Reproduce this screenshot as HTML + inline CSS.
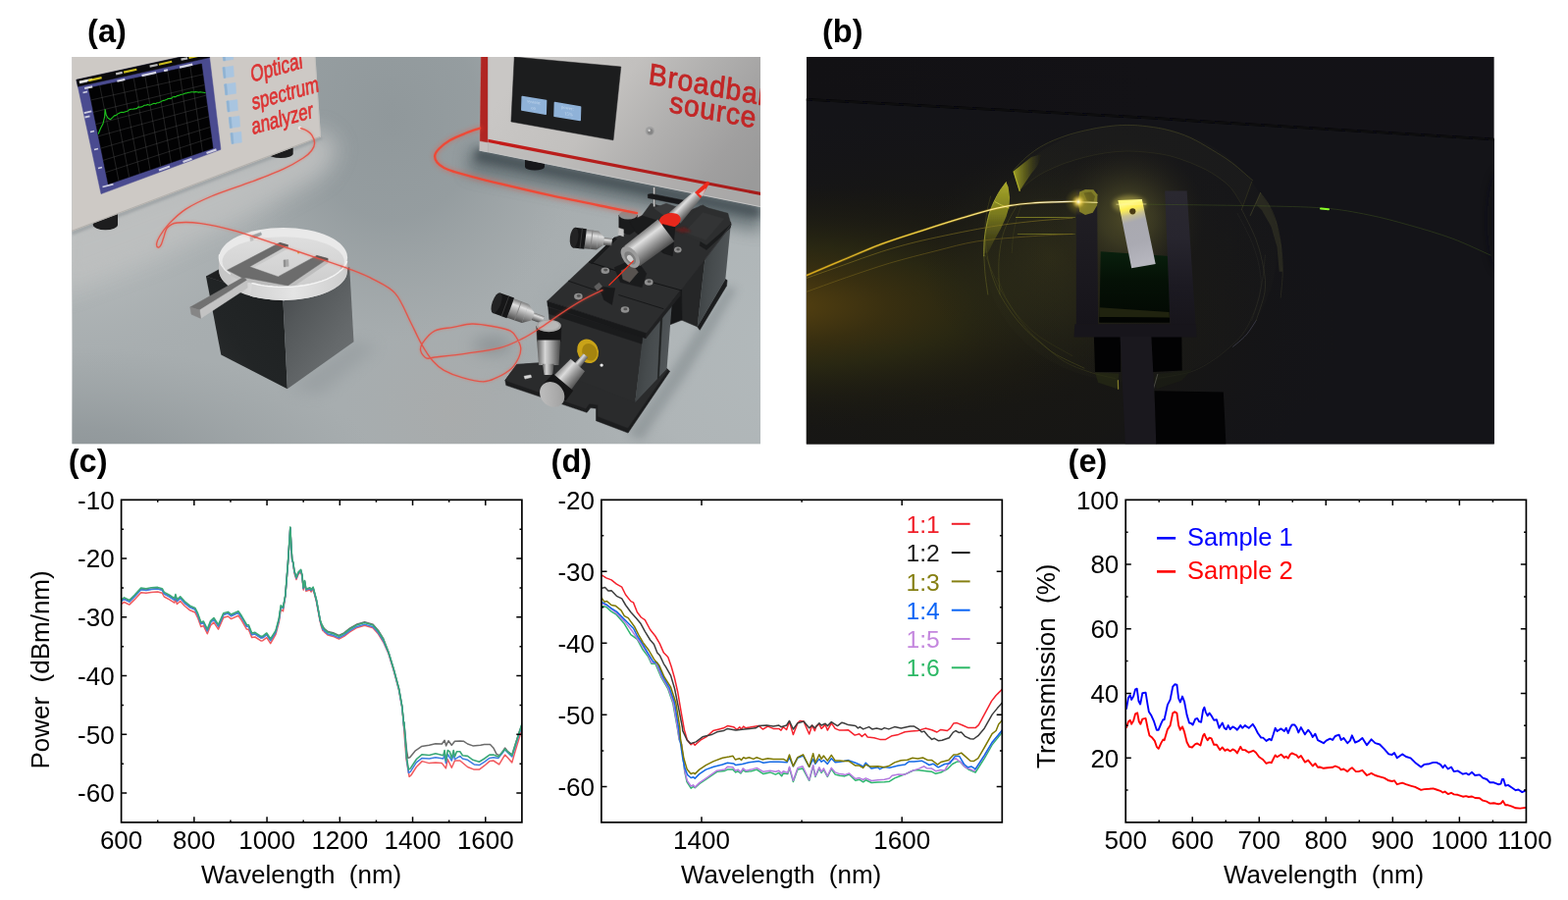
<!DOCTYPE html>
<html lang="en"><head><meta charset="utf-8"><title>Figure</title>
<style>
html,body{margin:0;padding:0;background:#fff;}
body{width:1598px;height:917px;overflow:hidden;}
svg{display:block;font-family:"Liberation Sans",sans-serif;}
</style></head><body>
<svg width="1598" height="917" viewBox="0 0 1598 917">
<rect width="1598" height="917" fill="#fff"/>
<defs>
<clipPath id="clipA"><rect x="73.3" y="58.0" width="701.7" height="394.4"/></clipPath>
<radialGradient id="aF1" cx="800" cy="350" r="290" gradientUnits="userSpaceOnUse">
 <stop offset="0" stop-color="#b2b9bb" stop-opacity="1"/><stop offset="0.5" stop-color="#b0b6b8" stop-opacity="0.9"/><stop offset="1" stop-color="#a8aeb0" stop-opacity="0"/>
</radialGradient>
<radialGradient id="aF2" cx="70" cy="236" r="150" gradientUnits="userSpaceOnUse" gradientTransform="translate(70 236) scale(1.5 1) translate(-70 -236)">
 <stop offset="0" stop-color="#bcc0c0" stop-opacity="1"/><stop offset="0.4" stop-color="#b3b8b9" stop-opacity="0.8"/><stop offset="1" stop-color="#a8aeb0" stop-opacity="0"/>
</radialGradient>
<radialGradient id="aF3" cx="60" cy="478" r="125" gradientUnits="userSpaceOnUse" gradientTransform="translate(60 478) scale(2.6 1) translate(-60 -478)">
 <stop offset="0" stop-color="#8c9396" stop-opacity="1"/><stop offset="0.35" stop-color="#91989b" stop-opacity="0.85"/><stop offset="1" stop-color="#979ea0" stop-opacity="0"/>
</radialGradient>
<radialGradient id="aF4" cx="400" cy="120" r="230" gradientUnits="userSpaceOnUse" gradientTransform="translate(400 120) scale(0.85 1) translate(-400 -120)">
 <stop offset="0" stop-color="#90989b" stop-opacity="1"/><stop offset="0.45" stop-color="#939b9e" stop-opacity="0.9"/><stop offset="1" stop-color="#989fa1" stop-opacity="0"/>
</radialGradient>
<radialGradient id="aF5" cx="460" cy="420" r="110" gradientUnits="userSpaceOnUse">
 <stop offset="0" stop-color="#a9abab" stop-opacity="0.8"/><stop offset="1" stop-color="#a6aaab" stop-opacity="0"/>
</radialGradient>
<linearGradient id="aSrcF" gradientUnits="userSpaceOnUse" x1="540" y1="60" x2="740" y2="215">
 <stop offset="0" stop-color="#c9c7c5"/><stop offset="0.35" stop-color="#c2c0be"/><stop offset="0.6" stop-color="#b0afae"/><stop offset="0.85" stop-color="#a09f9f"/><stop offset="1" stop-color="#9a9a9a"/>
</linearGradient>
<linearGradient id="aSrcSh" gradientUnits="userSpaceOnUse" x1="600" y1="90" x2="760" y2="215">
 <stop offset="0" stop-color="#9a9a9a" stop-opacity="0"/><stop offset="0.45" stop-color="#9a9a9a" stop-opacity="0.12"/><stop offset="0.8" stop-color="#9a9a9a" stop-opacity="0.7"/><stop offset="1" stop-color="#989898" stop-opacity="0.95"/>
</linearGradient>
<linearGradient id="aStripe" gradientUnits="userSpaceOnUse" x1="489" y1="0" x2="775" y2="0">
 <stop offset="0" stop-color="#c81a18"/><stop offset="0.3" stop-color="#b81e1c"/><stop offset="1" stop-color="#a61c1a"/>
</linearGradient>
<filter id="b2" x="-100%" y="-100%" width="300%" height="300%"><feGaussianBlur stdDeviation="2"/></filter>
<filter id="b4" x="-100%" y="-100%" width="300%" height="300%"><feGaussianBlur stdDeviation="4"/></filter>
<filter id="b12" x="-100%" y="-100%" width="300%" height="300%"><feGaussianBlur stdDeviation="11"/></filter>
<filter id="b8" x="-100%" y="-100%" width="300%" height="300%"><feGaussianBlur stdDeviation="8"/></filter>
<filter id="b1" x="-100%" y="-100%" width="300%" height="300%"><feGaussianBlur stdDeviation="0.8"/></filter>
<filter id="b05" x="-100%" y="-100%" width="300%" height="300%"><feGaussianBlur stdDeviation="0.45"/></filter>
<linearGradient id="aPedL" x1="1" y1="0" x2="0" y2="1"><stop offset="0" stop-color="#1d2021"/><stop offset="0.6" stop-color="#222526"/><stop offset="1" stop-color="#2c2e2f"/></linearGradient>
<linearGradient id="aPedR" x1="0.1" y1="0" x2="0.9" y2="1">
 <stop offset="0" stop-color="#44474a"/><stop offset="0.3" stop-color="#54585a"/><stop offset="0.7" stop-color="#65696b"/><stop offset="1" stop-color="#6e7274"/>
</linearGradient>
<linearGradient id="aMetal" x1="0" y1="0" x2="0" y2="1">
 <stop offset="0" stop-color="#6d6d6d"/><stop offset="0.3" stop-color="#d8d8d8"/><stop offset="0.55" stop-color="#a8a8a8"/><stop offset="1" stop-color="#4a4a4a"/>
</linearGradient>
<linearGradient id="aMetalH" x1="0" y1="0" x2="1" y2="0">
 <stop offset="0" stop-color="#5a5a5a"/><stop offset="0.35" stop-color="#d6d6d6"/><stop offset="0.6" stop-color="#a5a5a5"/><stop offset="1" stop-color="#4a4a4a"/>
</linearGradient>
<linearGradient id="aDishW" x1="0" y1="0" x2="1" y2="0">
<stop offset="0" stop-color="#bdbdbd"/><stop offset="0.25" stop-color="#d8d8d8"/><stop offset="0.6" stop-color="#e2e2e2"/><stop offset="1" stop-color="#c4c4c4"/></linearGradient>
<linearGradient id="aDishF" x1="0" y1="0" x2="0" y2="1">
<stop offset="0" stop-color="#dedede"/><stop offset="0.5" stop-color="#d6d6d6"/><stop offset="1" stop-color="#cdcdcd"/></linearGradient></defs>
<g clip-path="url(#clipA)">
<rect x="73.3" y="58.0" width="701.7" height="394.4" fill="#a7adaf"/>
<rect x="73.3" y="58.0" width="701.7" height="394.4" fill="url(#aF4)"/>
<rect x="73.3" y="58.0" width="701.7" height="394.4" fill="url(#aF1)"/>
<rect x="73.3" y="58.0" width="701.7" height="394.4" fill="url(#aF5)"/>
<rect x="73.3" y="58.0" width="701.7" height="394.4" fill="url(#aF2)"/>
<rect x="73.3" y="58.0" width="701.7" height="394.4" fill="url(#aF3)"/>
<polygon points="60.0,232.0 326.5,132.0 345.0,150.0 330.0,178.0 250.0,222.0 160.0,262.0 60.0,300.0" fill="#bdbfbf" stroke="#bdbfbf" stroke-width="0.5" stroke-linejoin="round" filter="url(#b12)" opacity="0.95"/>
<polygon points="73.3,235.0 326.5,139.0 329.0,141.5 73.3,239.5" fill="#8a9194" stroke="#8a9194" stroke-width="0.5" stroke-linejoin="round" filter="url(#b1)" opacity="0.5"/>
<path d="M94.8 214 V229 A12.6 5.2 0 0 0 120 229 V214 Z" fill="#1d1d1e"/>
<path d="M273.5 146 V156.5 A12.6 4.6 0 0 0 298.7 156.5 V146 Z" fill="#1d1d1e"/>
<polygon points="73.3,58.0 321.0,58.0 326.5,139.4 73.3,235.5" fill="#cdc9c5" stroke="#cdc9c5" stroke-width="0.5" stroke-linejoin="round" />
<polyline points="73.3,235.2 326.5,139.2" fill="none" stroke="#b4b1ad" stroke-width="1.2" stroke-linecap="round" stroke-linejoin="round" />
<polyline points="321.0,58.0 326.5,139.4" fill="none" stroke="#c4c2bf" stroke-width="1.0" stroke-linecap="round" stroke-linejoin="round" />
<polygon points="77.9,81.4 212.8,52.0 225.0,152.3 103.0,197.6" fill="#4a4b90" stroke="#4a4b90" stroke-width="0.5" stroke-linejoin="round" />
<polygon points="77.9,81.2 212.8,51.8 213.6,58.6 79.4,88.2" fill="#0a0a0c" stroke="#0a0a0c" stroke-width="0.5" stroke-linejoin="round" />
<polygon points="90.2,89.8 205.4,65.0 217.1,151.0 110.3,187.8" fill="#020203" stroke="#020203" stroke-width="0.5" stroke-linejoin="round" />
<path d="M101.7 87.3L121.0 184.1M113.2 84.8L131.7 180.4M124.8 82.4L142.3 176.8M136.3 79.9L153.0 173.1M147.8 77.4L163.7 169.4M159.3 74.9L174.4 165.7M170.8 72.4L185.1 162.0M182.4 70.0L195.7 158.4M193.9 67.5L206.4 154.7M92.7 102.0L206.9 75.8M95.2 114.3L208.3 86.5M97.7 126.6L209.8 97.2M100.2 138.8L211.2 108.0M102.8 151.1L212.7 118.8M105.3 163.3L214.2 129.5M107.8 175.6L215.6 140.2" stroke="#6a6a6a" stroke-width="0.55" fill="none" opacity="0.55"/>
<polyline points="100.3,136.2 102.5,130.8 105.0,126.0 106.6,118.9 107.2,111.5 108.2,117.0 110.0,120.2 112.4,121.8 115.0,119.4 116.5,117.9 118.0,117.6 119.5,116.4 121.0,115.5 122.5,114.7 124.0,114.2 125.7,114.6 127.3,113.9 128.9,113.4 130.4,112.9 132.0,111.6 133.7,111.3 135.3,111.2 137.0,110.9 138.3,110.7 139.7,110.4 141.0,108.9 142.5,109.2 144.1,108.9 145.6,108.2 147.2,107.3 148.8,107.3 150.4,106.4 152.0,107.1 153.7,106.7 155.3,106.0 157.0,105.3 158.5,105.7 160.1,104.8 161.6,104.7 163.2,104.1 164.8,103.1 166.4,102.4 168.0,102.1 169.7,101.4 171.3,100.5 173.0,100.2 174.4,100.4 175.9,98.9 177.4,98.4 178.8,98.7 180.4,97.6 181.9,97.4 183.4,96.8 185.0,96.2 186.6,96.0 188.2,95.3 189.8,94.9 191.4,94.4 193.2,94.3 195.0,93.8 196.5,93.8 197.9,93.9 199.4,93.6 200.9,93.8 202.5,94.1 204.0,93.8 205.7,94.0 207.4,94.2 209.1,94.5" fill="none" stroke="#1cc41c" stroke-width="1.1" stroke-linecap="round" stroke-linejoin="round" filter="url(#b05)"/>
<path d="M80.9 83.6L94.2 80.7" stroke="#e8e8e8" stroke-width="2.2" opacity="0.9" filter="url(#b05)"/>
<path d="M81.0 84.1L89.0 82.4" stroke="#e8e8e8" stroke-width="2.2" opacity="0.9" filter="url(#b05)"/>
<path d="M90.3 82.1L103.6 79.1" stroke="#e0d020" stroke-width="2.2" opacity="0.9" filter="url(#b05)"/>
<path d="M118.1 75.3L124.7 73.9" stroke="#cfcfcf" stroke-width="2.2" opacity="0.9" filter="url(#b05)"/>
<path d="M126.1 73.6L139.3 70.7" stroke="#e0d020" stroke-width="2.2" opacity="0.9" filter="url(#b05)"/>
<path d="M152.6 67.7L160.6 66.0" stroke="#cfcfcf" stroke-width="2.2" opacity="0.9" filter="url(#b05)"/>
<path d="M161.9 65.7L175.2 62.8" stroke="#e0d020" stroke-width="2.2" opacity="0.9" filter="url(#b05)"/>
<path d="M184.5 60.7L191.1 59.3" stroke="#cfcfcf" stroke-width="2.2" opacity="0.9" filter="url(#b05)"/>
<path d="M192.5 59.0L201.8 56.9" stroke="#e0d020" stroke-width="2.2" opacity="0.9" filter="url(#b05)"/>
<path d="M86.2 90.0L94.2 88.3" stroke="#e4e4ee" stroke-width="2.2" opacity="0.9" filter="url(#b05)"/>
<path d="M119.4 82.7L127.3 80.9" stroke="#e4e4ee" stroke-width="2.2" opacity="0.9" filter="url(#b05)"/>
<path d="M144.5 77.1L159.1 73.9" stroke="#e4e4ee" stroke-width="2.2" opacity="0.9" filter="url(#b05)"/>
<path d="M167.1 72.1L171.0 71.2" stroke="#e4e4ee" stroke-width="2.2" opacity="0.9" filter="url(#b05)"/>
<path d="M183.0 68.6L196.2 65.6" stroke="#e4e4ee" stroke-width="2.2" opacity="0.9" filter="url(#b05)"/>
<path d="M84.5 94.5l4.5 -1.1" stroke="#e4e4ee" stroke-width="1.8" opacity="0.85" filter="url(#b05)"/>
<path d="M85.8 115.2l7.5 -1.9" stroke="#e4e4ee" stroke-width="1.8" opacity="0.85" filter="url(#b05)"/>
<path d="M86.5 119.5l5.0 -1.2" stroke="#e4e4ee" stroke-width="1.8" opacity="0.85" filter="url(#b05)"/>
<path d="M92.0 134.5l4.0 -1.0" stroke="#e4e4ee" stroke-width="1.8" opacity="0.85" filter="url(#b05)"/>
<path d="M96.0 152.5l4.0 -1.0" stroke="#e4e4ee" stroke-width="1.8" opacity="0.85" filter="url(#b05)"/>
<path d="M100.0 171.5l4.0 -1.0" stroke="#e4e4ee" stroke-width="1.8" opacity="0.85" filter="url(#b05)"/>
<path d="M104.5 190.5l11.0 -2.8" stroke="#e4e4ee" stroke-width="1.8" opacity="0.85" filter="url(#b05)"/>
<path d="M162.0 173.5l11.0 -4.0" stroke="#e4e4ee" stroke-width="2.2" opacity="0.85" filter="url(#b05)"/>
<path d="M186.5 165.0l9.0 -3.2" stroke="#e4e4ee" stroke-width="2.2" opacity="0.85" filter="url(#b05)"/>
<path d="M210.5 156.0l10.0 -3.6" stroke="#e4e4ee" stroke-width="2.2" opacity="0.85" filter="url(#b05)"/>
<polygon points="226.6,55.0 237.2,53.5 237.8,60.5 227.8,62.0" fill="#a9c5e0" stroke="#a9c5e0" stroke-width="0.5" stroke-linejoin="round" />
<polygon points="226.6,55.0 228.8,54.7 229.8,61.7 227.8,62.0" fill="#8fb2d2" stroke="#8fb2d2" stroke-width="0.5" stroke-linejoin="round" />
<polygon points="226.9,68.7 237.8,67.2 238.4,78.1 228.1,79.6" fill="#a9c5e0" stroke="#a9c5e0" stroke-width="0.5" stroke-linejoin="round" />
<polygon points="226.9,68.7 229.1,68.4 230.1,79.3 228.1,79.6" fill="#8fb2d2" stroke="#8fb2d2" stroke-width="0.5" stroke-linejoin="round" />
<polygon points="228.6,85.9 240.0,84.3 240.6,95.2 229.8,96.8" fill="#a9c5e0" stroke="#a9c5e0" stroke-width="0.5" stroke-linejoin="round" />
<polygon points="228.6,85.9 230.8,85.6 231.8,96.5 229.8,96.8" fill="#8fb2d2" stroke="#8fb2d2" stroke-width="0.5" stroke-linejoin="round" />
<polygon points="230.9,103.1 241.8,101.6 242.4,112.5 232.1,114.0" fill="#a9c5e0" stroke="#a9c5e0" stroke-width="0.5" stroke-linejoin="round" />
<polygon points="230.9,103.1 233.1,102.8 234.1,113.7 232.1,114.0" fill="#8fb2d2" stroke="#8fb2d2" stroke-width="0.5" stroke-linejoin="round" />
<polygon points="233.2,119.7 244.0,118.2 244.6,129.1 234.4,130.6" fill="#a9c5e0" stroke="#a9c5e0" stroke-width="0.5" stroke-linejoin="round" />
<polygon points="233.2,119.7 235.4,119.4 236.4,130.3 234.4,130.6" fill="#8fb2d2" stroke="#8fb2d2" stroke-width="0.5" stroke-linejoin="round" />
<polygon points="234.9,135.7 245.8,134.2 246.4,145.1 236.1,146.6" fill="#a9c5e0" stroke="#a9c5e0" stroke-width="0.5" stroke-linejoin="round" />
<polygon points="234.9,135.7 237.1,135.4 238.1,146.3 236.1,146.6" fill="#8fb2d2" stroke="#8fb2d2" stroke-width="0.5" stroke-linejoin="round" />
<g fill="#dc3434" stroke="#dc3434" stroke-width="0.7" font-family="'Liberation Sans',sans-serif" text-anchor="middle" filter="url(#b05)">
<text transform="matrix(0.72 -0.20 0.10 1.0 282.6 76.5)" font-size="23.5" x="0" y="0">Optical</text>
<text transform="matrix(0.72 -0.20 0.10 1.0 291.5 102.6)" font-size="23.0" x="0" y="0">spectrum</text>
<text transform="matrix(0.72 -0.20 0.10 1.0 288.5 128.4)" font-size="23.0" x="0" y="0">analyzer</text>
</g>
<circle cx="305.6" cy="130.4" r="1.8" fill="#efefef"/>
<polygon points="480.0,150.0 775.0,208.0 775.0,236.0 476.0,176.0" fill="#5a666a" stroke="#5a666a" stroke-width="0.5" stroke-linejoin="round" filter="url(#b8)" opacity="0.75"/>
<polygon points="486.0,152.0 775.0,210.0 775.0,222.0 484.0,163.0" fill="#434e52" stroke="#434e52" stroke-width="0.5" stroke-linejoin="round" filter="url(#b4)" opacity="0.9"/>
<path d="M535 160 V170 A10 3.6 0 0 0 555 170 V160 Z" fill="#17171a"/>
<polygon points="490.3,58.0 497.7,58.0 497.5,155.0 488.8,153.2" fill="#c4c1c0" stroke="#c4c1c0" stroke-width="0.5" stroke-linejoin="round" />
<polygon points="490.3,58.0 497.7,58.0 497.5,145.0 489.2,143.6" fill="#b02522" stroke="#b02522" stroke-width="0.5" stroke-linejoin="round" />
<polygon points="497.4,58.0 775.0,58.0 775.0,210.8 497.4,154.8" fill="url(#aSrcF)"  />
<polygon points="497.4,145.0 775.0,198.8 775.0,210.8 497.4,154.8" fill="#b8b6b5" stroke="#b8b6b5" stroke-width="0.5" stroke-linejoin="round" opacity="0.5"/>
<polyline points="488.8,153.2 497.4,154.8 775.0,210.6" fill="none" stroke="#c6c6c6" stroke-width="0.9" stroke-linecap="round" stroke-linejoin="round" />
<polyline points="497.5,58.0 497.4,154.6" fill="none" stroke="#b9b5b5" stroke-width="0.8" stroke-linecap="round" stroke-linejoin="round" />
<polygon points="497.4,141.8 775.0,195.8 775.0,198.9 497.4,145.1" fill="url(#aStripe)"  />
<polygon points="524.2,58.0 632.8,68.0 625.0,142.8 520.9,124.0" fill="#1c1d1e" stroke="#1c1d1e" stroke-width="0.5" stroke-linejoin="round" />
<g filter="url(#b05)">
<polygon points="532.2,98.6 556.6,102.6 556.2,116.2 531.8,112.0" fill="#8fb2d8"  stroke="#8fb2d8" stroke-width="1.5" stroke-linejoin="round"/>
<polygon points="565.4,104.6 591.6,108.9 591.2,122.6 565.0,118.2" fill="#8fb2d8"  stroke="#8fb2d8" stroke-width="1.5" stroke-linejoin="round"/>
</g>
<g fill="#c9dcf0" font-size="4.6" font-family="'Liberation Serif',serif" text-anchor="middle" opacity="0.9">
<text transform="matrix(1 0.165 0 1 544.3 105.4)">system:</text><text transform="matrix(1 0.165 0 1 543.5 111.6)">on</text>
<text transform="matrix(1 0.165 0 1 578.3 111.4)">power:</text><text transform="matrix(1 0.165 0 1 579.5 117.8)">15%</text>
</g>
<circle cx="662.3" cy="133.6" r="4.6" fill="#a0a0a0"/><circle cx="662.6" cy="133.9" r="3.0" fill="#858585"/><circle cx="661.6" cy="132.8" r="1.2" fill="#d6d6d6"/>
<g fill="#c22626" stroke="#c22626" stroke-width="0.8" font-family="'Liberation Sans',sans-serif" filter="url(#b05)">
<text transform="matrix(0.93 0.175 -0.11 1.0 660.2 85.2)" font-size="30" letter-spacing="0.9">Broadband</text>
<text transform="matrix(0.93 0.175 -0.11 1.0 681.5 114.0)" font-size="30" letter-spacing="0.9">source</text>
</g>
<polygon points="292.0,396.0 360.0,348.0 385.0,352.0 325.0,402.0" fill="#8a9194" stroke="#8a9194" stroke-width="0.5" stroke-linejoin="round" filter="url(#b8)" opacity="0.45"/>
<polygon points="210.0,281.8 225.3,361.4 292.9,396.3 288.5,306.9" fill="url(#aPedL)"  />
<polygon points="288.5,306.9 292.9,396.3 360.5,348.3 356.2,272.0" fill="url(#aPedR)"  />
<polygon points="210.0,281.8 228.0,272.0 250.0,300.0 288.5,306.9" fill="#1e1f20" stroke="#1e1f20" stroke-width="0.5" stroke-linejoin="round" />
<path d="M223.3 262.2 A65.4 30.2 0 0 0 354.1 262.2 V275.7 A65.4 30.2 0 0 1 223.3 275.7 Z" fill="url(#aDishW)"/>
<ellipse cx="288.7" cy="262.2" rx="65.4" ry="30.2" fill="#e9e9e9"/>
<ellipse cx="288.7" cy="266.4" rx="62.2" ry="25.2" fill="url(#aDishF)"/>
<defs><linearGradient id="aDishW2" x1="0" y1="0" x2="1" y2="0"><stop offset="0" stop-color="#d2d2d2"/><stop offset="0.45" stop-color="#e4e4e4"/><stop offset="1" stop-color="#cdcdcd"/></linearGradient><linearGradient id="aMetal2" gradientUnits="objectBoundingBox" x1="0" y1="0" x2="0" y2="1"><stop offset="0" stop-color="#7a7a7a"/><stop offset="0.28" stop-color="#e0e0e0"/><stop offset="0.55" stop-color="#a6a6a6"/><stop offset="1" stop-color="#4c4c4c"/></linearGradient><linearGradient id="aFaceR" x1="0" y1="0" x2="1" y2="0.4"><stop offset="0" stop-color="#34383a"/><stop offset="0.5" stop-color="#464b4d"/><stop offset="1" stop-color="#52575a"/></linearGradient><linearGradient id="aCap" x1="0" y1="0" x2="1" y2="1"><stop offset="0" stop-color="#c4c4c4"/><stop offset="1" stop-color="#9a9a9a"/></linearGradient><linearGradient id="aMetal3" gradientUnits="objectBoundingBox" x1="0" y1="0" x2="0" y2="1"><stop offset="0" stop-color="#8a8a8a"/><stop offset="0.3" stop-color="#dcdcdc"/><stop offset="0.6" stop-color="#9c9c9c"/><stop offset="1" stop-color="#505050"/></linearGradient></defs>
<polygon points="293.4,291.0 334.1,263.5 334.1,268.0 293.9,295.3 252.0,287.2 252.0,283.3" fill="#bdbdbd" stroke="#bdbdbd" stroke-width="0.5" stroke-linejoin="round" />
<polygon points="254.4,271.8 293.4,249.7 293.4,253.0 256.8,273.4" fill="#c9c9c9" stroke="#c9c9c9" stroke-width="0.5" stroke-linejoin="round" />
<polygon points="231.6,275.2 247.2,283.3 247.2,287.2 231.8,279.0" fill="#c4c4c4" stroke="#c4c4c4" stroke-width="0.5" stroke-linejoin="round" />
<polygon points="231.6,275.2 285.0,247.3 293.4,249.7 254.4,271.8 283.4,281.9 322.7,260.4 334.1,263.5 293.4,291.0 252.0,283.3 247.2,283.3" fill="#6c6c6c" stroke="#6c6c6c" stroke-width="0.5" stroke-linejoin="round" />
<polygon points="285.0,247.3 293.4,249.7 293.4,251.4 285.0,249.0" fill="#5a5a5a" stroke="#5a5a5a" stroke-width="0.5" stroke-linejoin="round" />
<polygon points="322.7,260.4 334.1,263.5 334.1,265.6 322.7,262.2" fill="#555555" stroke="#555555" stroke-width="0.5" stroke-linejoin="round" />
<polygon points="256.8,239.9 265.9,236.8 266.6,239.2 259.2,243.0" fill="#9ba2a4" stroke="#9ba2a4" stroke-width="0.5" stroke-linejoin="round" />
<polygon points="254.8,241.6 258.0,240.6 258.2,244.9 255.3,245.7" fill="#c2c2c2" stroke="#c2c2c2" stroke-width="0.5" stroke-linejoin="round" />
<polygon points="347.2,270.4 349.1,270.9 349.1,275.9 347.2,275.2" fill="#bdbdbd" stroke="#bdbdbd" stroke-width="0.5" stroke-linejoin="round" />
<polygon points="289.2,265.0 293.9,264.6 294.2,271.3 289.4,271.8" fill="#a9a9a9" stroke="#a9a9a9" stroke-width="0.5" stroke-linejoin="round" />
<polygon points="289.2,265.0 290.6,264.9 290.8,271.7 289.4,271.8" fill="#8a8a8a" stroke="#8a8a8a" stroke-width="0.5" stroke-linejoin="round" />
<circle cx="304.1" cy="257.4" r="1.1" fill="#d8a040"/>
<polygon points="353.5,266.4 352.9,268.0 352.2,269.5 351.2,271.0 350.2,272.5 348.9,274.0 347.5,275.4 345.9,276.8 344.2,278.2 342.3,279.5 340.2,280.8 338.1,282.0 335.7,283.2 333.3,284.3 330.7,285.3 328.1,286.3 325.3,287.2 322.4,288.1 319.4,288.9 316.3,289.6 313.2,290.2 310.0,290.8 306.7,291.2 303.4,291.6 300.1,291.9 296.7,292.2 293.3,292.3 289.8,292.4 286.4,292.4 283.0,292.3 279.6,292.1 276.2,291.8 272.9,291.5 269.6,291.1 266.3,290.6 263.1,290.0 260.0,289.3 257.0,288.6 255.0,301.6 258.0,302.4 261.1,303.1 264.2,303.7 267.4,304.3 270.7,304.7 274.0,305.1 277.3,305.4 280.7,305.7 284.1,305.8 287.6,305.9 291.0,305.9 294.4,305.8 297.8,305.6 301.2,305.3 304.5,305.0 307.8,304.6 311.1,304.1 314.3,303.5 317.4,302.8 320.4,302.1 323.4,301.3 326.2,300.4 329.0,299.5 331.6,298.5 334.1,297.4 336.5,296.3 338.8,295.1 340.9,293.9 342.9,292.6 344.8,291.3 346.4,289.9 348.0,288.5 349.3,287.0 350.5,285.5 351.6,284.0 352.4,282.5 353.1,280.9" fill="url(#aDishW2)"  />
<polyline points="353.5,266.4 352.9,268.0 352.2,269.5 351.2,271.0 350.2,272.5 348.9,274.0 347.5,275.4 345.9,276.8 344.2,278.2 342.3,279.5 340.2,280.8 338.1,282.0 335.7,283.2 333.3,284.3 330.7,285.3 328.1,286.3 325.3,287.2 322.4,288.1 319.4,288.9 316.3,289.6 313.2,290.2 310.0,290.8 306.7,291.2 303.4,291.6 300.1,291.9 296.7,292.2 293.3,292.3 289.8,292.4 286.4,292.4 283.0,292.3 279.6,292.1 276.2,291.8 272.9,291.5 269.6,291.1 266.3,290.6 263.1,290.0 260.0,289.3 257.0,288.6" fill="none" stroke="#f4f4f4" stroke-width="1.4" stroke-linecap="round" stroke-linejoin="round" />
<polygon points="234.5,279.1 232.6,277.8 231.0,276.4 229.4,275.0 228.1,273.5 226.9,272.0 225.8,270.5 225.0,269.0 224.3,267.4 223.8,265.9 223.5,264.3 223.3,262.7 223.3,261.1 223.5,259.6 223.5,272.1 223.3,273.6 223.3,275.2 223.5,276.8 223.8,278.4 224.3,279.9 225.0,281.5 225.8,283.0 226.9,284.5 228.1,286.0 229.4,287.5 231.0,288.9 232.6,290.3 234.5,291.6" fill="#c6c6c6" stroke="#c6c6c6" stroke-width="0.5" stroke-linejoin="round" />
<polyline points="234.5,279.1 232.6,277.8 231.0,276.4 229.4,275.0 228.1,273.5 226.9,272.0 225.8,270.5 225.0,269.0 224.3,267.4 223.8,265.9 223.5,264.3 223.3,262.7 223.3,261.1 223.5,259.6" fill="none" stroke="#ededed" stroke-width="1.2" stroke-linecap="round" stroke-linejoin="round" />
<polygon points="193.8,313.0 247.8,282.6 252.0,285.4 203.4,316.0" fill="#717171" stroke="#717171" stroke-width="0.5" stroke-linejoin="round" />
<polygon points="203.4,316.0 252.0,285.4 252.2,293.2 204.6,324.4" fill="#c3c3c3" stroke="#c3c3c3" stroke-width="0.5" stroke-linejoin="round" />
<polygon points="193.8,313.0 203.4,316.0 204.6,324.4 195.0,320.2" fill="#868686" stroke="#868686" stroke-width="0.5" stroke-linejoin="round" />
<polygon points="640.1,442.0 683.6,378.3 711.6,334.8 741.1,291.2 750.5,294.4 722.5,344.1 697.6,384.5 654.1,448.2" fill="#7d8588" stroke="#7d8588" stroke-width="0.5" stroke-linejoin="round" filter="url(#b4)" opacity="0.5"/>
<polygon points="498.7,393.8 554.6,356.5 557.7,303.7 604.4,257.0 573.3,300.6 536.0,356.5" fill="#979ea0" stroke="#979ea0" stroke-width="0.5" stroke-linejoin="round" filter="url(#b8)" opacity="0.4"/>
<ellipse cx="502" cy="352" rx="20" ry="8" fill="#767d80" filter="url(#b8)" opacity="0.6"/>
<polygon points="514.8,387.6 526.6,371.4 560.8,369.0 646.3,409.4 679.0,375.2 682.7,378.3 640.1,441.1 607.5,428.7 607.5,416.2 601.9,415.6 598.1,420.3 515.8,392.6" fill="#1c1d1e" stroke="#1c1d1e" stroke-width="0.5" stroke-linejoin="round" />
<polygon points="710.7,332.9 739.3,284.4 741.1,285.6 740.5,291.2 713.2,336.3" fill="#1c1d1e" stroke="#1c1d1e" stroke-width="0.5" stroke-linejoin="round" />
<polygon points="514.8,387.6 526.6,371.4 560.8,369.0 646.3,409.4 679.0,375.2 680.8,376.4 639.8,436.1 609.3,424.3 609.3,412.5 600.6,411.2 596.9,416.2" fill="#2a2b2c" stroke="#2a2b2c" stroke-width="0.5" stroke-linejoin="round" />
<polygon points="693.9,294.4 718.8,260.8 710.7,332.9 694.5,326.1" fill="#252627" stroke="#252627" stroke-width="0.5" stroke-linejoin="round" />
<polygon points="718.8,260.8 744.9,227.2 739.3,284.4 710.7,332.9" fill="url(#aFaceR)"  />
<polygon points="682.1,303.7 694.5,294.4 695.1,326.1 680.5,331.7" fill="#161718" stroke="#161718" stroke-width="0.5" stroke-linejoin="round" />
<polygon points="558.3,309.3 656.0,340.4 647.3,410.0 564.6,377.7" fill="#2b2c2d" stroke="#2b2c2d" stroke-width="0.5" stroke-linejoin="round" />
<polygon points="655.3,340.4 685.2,303.7 679.6,375.8 647.3,410.0" fill="url(#aFaceR)"  />
<polygon points="673.4,321.4 675.2,318.6 671.5,384.5 670.3,385.7" fill="#1e2021" stroke="#1e2021" stroke-width="0.5" stroke-linejoin="round" />
<polygon points="559.3,313.6 654.7,343.5 654.1,350.3 559.9,319.8" fill="#1a1b1c" stroke="#1a1b1c" stroke-width="0.5" stroke-linejoin="round" />
<polygon points="557.7,306.8 626.1,242.1 641.7,236.8 663.4,207.3 697.6,216.6 716.3,208.9 744.9,226.6 744.9,229.7 718.8,263.9 693.0,296.8 658.8,340.4" fill="#2c2d2e" stroke="#2c2d2e" stroke-width="0.5" stroke-linejoin="round" />
<polygon points="557.7,306.8 658.8,339.7 658.1,344.7 558.3,312.1" fill="#18191a" stroke="#18191a" stroke-width="0.5" stroke-linejoin="round" />
<polygon points="658.8,339.7 693.3,296.2 693.3,301.2 658.1,344.7" fill="#202122" stroke="#202122" stroke-width="0.5" stroke-linejoin="round" />
<polyline points="579.5,286.3 619.3,299.9" fill="none" stroke="#141516" stroke-width="0.9" stroke-linecap="round" stroke-linejoin="round" />
<polyline points="630.8,300.6 675.9,314.6" fill="none" stroke="#141516" stroke-width="0.9" stroke-linecap="round" stroke-linejoin="round" />
<polyline points="600.6,267.0 629.2,276.3" fill="none" stroke="#131415" stroke-width="1.2" stroke-linecap="round" stroke-linejoin="round" />
<polyline points="657.2,285.6 694.5,295.9" fill="none" stroke="#131415" stroke-width="1.0" stroke-linecap="round" stroke-linejoin="round" />
<polygon points="600.6,267.0 626.1,242.1 628.6,243.4 603.1,268.9" fill="#1a1b1c" stroke="#1a1b1c" stroke-width="0.5" stroke-linejoin="round" />
<polygon points="687.7,234.7 713.8,209.8 741.8,217.3 744.9,228.4 720.0,250.2 713.8,246.5" fill="#2d2e2f" stroke="#2d2e2f" stroke-width="0.5" stroke-linejoin="round" />
<polygon points="713.8,246.5 720.0,250.2 744.9,228.4 744.2,232.2 720.0,254.6 713.2,250.2" fill="#1b1c1d" stroke="#1b1c1d" stroke-width="0.5" stroke-linejoin="round" />
<polygon points="697.6,236.8 716.3,216.6 738.0,222.8 719.4,244.6" fill="#333435" stroke="#333435" stroke-width="0.5" stroke-linejoin="round" />
<polyline points="718.8,263.9 744.9,229.1" fill="none" stroke="#3c3e40" stroke-width="0.8" stroke-linecap="round" stroke-linejoin="round" />
<ellipse cx="589.4" cy="302.1" rx="4.3" ry="3.3" fill="#8f8f8f"/>
<ellipse cx="589.8" cy="301.5" rx="2.0" ry="1.4" fill="#555"/>
<ellipse cx="616.8" cy="275.7" rx="4.3" ry="3.3" fill="#8f8f8f"/>
<ellipse cx="617.2" cy="275.1" rx="2.0" ry="1.4" fill="#555"/>
<ellipse cx="637.0" cy="315.5" rx="4.3" ry="3.3" fill="#8f8f8f"/>
<ellipse cx="637.4" cy="314.9" rx="2.0" ry="1.4" fill="#555"/>
<ellipse cx="661.2" cy="287.5" rx="4.3" ry="3.3" fill="#8f8f8f"/>
<ellipse cx="661.6" cy="286.9" rx="2.0" ry="1.4" fill="#555"/>
<ellipse cx="690.8" cy="254.6" rx="3.8" ry="3.0" fill="#8f8f8f"/><ellipse cx="691.1" cy="254.1" rx="1.8" ry="1.3" fill="#555"/>
<polygon points="610.6,291.9 626.7,293.7 623.6,310.5 615.5,305.5" fill="#18191a" stroke="#18191a" stroke-width="0.5" stroke-linejoin="round" />
<polygon points="605.6,291.9 610.6,288.1 613.7,291.9 608.7,296.2" fill="#5f5f5f" stroke="#5f5f5f" stroke-width="0.5" stroke-linejoin="round" />
<polygon points="626.1,272.6 647.9,263.3 658.8,278.8 654.1,292.8 632.3,287.5" fill="#1a1b1c" stroke="#1a1b1c" stroke-width="0.5" stroke-linejoin="round" />
<polygon points="633.0,275.7 644.8,270.1 650.4,277.3 641.7,287.5 634.8,284.4" fill="#57524f" stroke="#57524f" stroke-width="0.5" stroke-linejoin="round" />
<polygon points="630.8,219.1 649.4,219.1 649.4,233.7 641.7,239.0 630.8,236.8" fill="#1a1b1c" stroke="#1a1b1c" stroke-width="0.5" stroke-linejoin="round" />
<polygon points="630.2,232.2 635.4,233.7 635.4,240.9 630.2,239.0" fill="#c4c4c4" stroke="#c4c4c4" stroke-width="0.5" stroke-linejoin="round" />
<ellipse cx="640.1" cy="219.1" rx="9.3" ry="4.4" fill="#8c8c8c"/>
<polygon points="641.7,226.0 654.1,219.7 687.7,230.6 685.2,260.2 675.9,257.7 647.9,236.8" fill="#1a1b1c" stroke="#1a1b1c" stroke-width="0.5" stroke-linejoin="round" />
<polygon points="665.3,191.1 668.1,191.1 668.1,210.4 665.6,210.4" fill="url(#aMetalH)"  />
<polygon points="660.3,198.0 664.0,197.4 697.6,204.2 697.6,207.9 694.5,208.5 660.3,201.7" fill="#18181a" stroke="#18181a" stroke-width="0.5" stroke-linejoin="round" />
<polygon points="666.5,212.0 679.0,207.3 697.6,213.5 685.2,226.0" fill="#3a3b3c" stroke="#3a3b3c" stroke-width="0.5" stroke-linejoin="round" />
<g transform="translate(687.7 222.2) rotate(-45.8)" ><polygon points="0,-8.0 33.0,-5.0 33.0,5.0 0,8.0" fill="url(#aMetal2)"/></g>
<polygon points="708.5,196.1 720.9,184.9 723.1,186.2 713.8,201.7" fill="#ee2a1c" stroke="#ee2a1c" stroke-width="0.5" stroke-linejoin="round" />
<polygon points="712.5,197.4 718.8,192.4 715.6,199.8" fill="#d0c0c0" stroke="#d0c0c0" stroke-width="0.5" stroke-linejoin="round" />
<ellipse cx="682.7" cy="224.7" rx="11.2" ry="7.6" fill="#e8281c" transform="rotate(-12 682.7 224.7)"/>
<polygon points="687.7,233.7 694.5,236.8 703.8,235.9 697.6,231.6" fill="#7a1612" stroke="#7a1612" stroke-width="0.5" stroke-linejoin="round" opacity="0.6" filter="url(#b1)"/>
<polygon points="675.2,228.4 687.7,231.6 685.2,260.8 675.9,257.7" fill="#1a1b1c" stroke="#1a1b1c" stroke-width="0.5" stroke-linejoin="round" />
<g transform="translate(644.1 260.8) rotate(-36.9)" ><polygon points="0,-13.0 43.5,-14.0 43.5,14.0 0,13.0" fill="url(#aMetal2)"/></g>
<ellipse cx="642.3" cy="262.0" rx="7.5" ry="12.6" fill="#9c9c9c" transform="rotate(-37 642.3 262.0)"/>
<ellipse cx="641.7" cy="262.6" rx="4.6" ry="7.6" fill="#7e7e7e" transform="rotate(-37 642.3 262.0)"/>
<ellipse cx="641.3" cy="263.2" rx="2.6" ry="4.0" fill="#cfcfcf" transform="rotate(-37 642.3 262.0)"/>
<g transform="translate(585.1 242.1) rotate(6.9)"><polygon points="30.3,-3.7 38.8,-3.7 38.8,3.7 30.3,3.7" fill="url(#aMetal2)"/><polygon points="24.1,-9.6 30.3,-4.2 30.3,4.2 24.1,9.6" fill="url(#aMetal2)"/><polygon points="11.6,-9.9 24.1,-9.6 24.1,9.6 11.6,9.9" fill="url(#aMetal2)"/><path d="M17.9 -9.7V9.7" stroke="#7a7a7a" stroke-width="0.7"/><polygon points="0,-10.4 11.6,-10.4 11.6,10.4 0,10.4" fill="#161617"/><ellipse cx="0" cy="0" rx="4.2" ry="10.4" fill="#232324"/><path d="M7.2 -10.4V10.4" stroke="#3a3a3a" stroke-width="0.9"/></g>
<g transform="translate(506.1 308.7) rotate(20.2)"><polygon points="39.3,-4.0 50.4,-4.0 50.4,4.0 39.3,4.0" fill="url(#aMetal2)"/><polygon points="31.2,-10.1 39.3,-4.4 39.3,4.4 31.2,10.1" fill="url(#aMetal2)"/><polygon points="15.1,-10.4 31.2,-10.1 31.2,10.1 15.1,10.4" fill="url(#aMetal2)"/><path d="M23.2 -10.2V10.2" stroke="#7a7a7a" stroke-width="0.7"/><polygon points="0,-11.0 15.1,-11.0 15.1,11.0 0,11.0" fill="#161617"/><ellipse cx="0" cy="0" rx="4.4" ry="11.0" fill="#232324"/><path d="M9.4 -11.0V11.0" stroke="#3a3a3a" stroke-width="0.9"/></g>
<polygon points="546.8,332.3 572.0,332.3 571.4,347.8 547.5,347.8" fill="#151516" stroke="#151516" stroke-width="0.5" stroke-linejoin="round" />
<polygon points="547.1,346.6 571.1,346.6 569.5,372.1 549.0,372.1" fill="url(#aMetalH)"  />
<polygon points="552.7,370.8 564.6,370.8 563.3,382.0 554.6,382.0" fill="url(#aMetalH)"  />
<ellipse cx="559.3" cy="332.0" rx="12.6" ry="6.2" fill="#a5a5a5"/>
<ellipse cx="559.3" cy="331.5" rx="10.6" ry="4.8" fill="#b8b8b8"/>
<polygon points="534.1,383.3 540.9,382.0 541.6,384.5 535.0,386.1" fill="#d6d6d6" stroke="#d6d6d6" stroke-width="0.5" stroke-linejoin="round" />
<ellipse cx="599.1" cy="357.8" rx="10.6" ry="12.6" fill="#c9a318" transform="rotate(-25 599.1 357.8)"/>
<ellipse cx="600.3" cy="359.4" rx="7.4" ry="9.0" fill="#a5840f" transform="rotate(-25 599.1 357.8)"/>
<circle cx="613.1" cy="372.1" r="1.7" fill="#e8e8e8"/>
<g transform="translate(587.3 373.6) rotate(-50.0)" ><polygon points="0,-3.6 15.0,-3.0 15.0,3.0 0,3.6" fill="url(#aMetal3)"/></g>
<g transform="translate(572.0 391.3) rotate(-48.9)" ><polygon points="0,-11.6 25.6,-9.6 25.6,9.6 0,11.6" fill="url(#aMetal3)"/></g>
<g transform="translate(565.8 399.1) rotate(-50.0)" ><polygon points="0,-14.2 12.6,-13.4 12.6,13.4 0,14.2" fill="#151516"/></g>
<ellipse cx="562.7" cy="401.9" rx="11.6" ry="13.8" fill="url(#aCap)" transform="rotate(-42 562.7 401.9)"/>
<path d="M306.4 130.7 C307.5 131.1 311.1 132.2 313.0 133.4 C314.9 134.6 316.5 135.5 317.8 137.6 C319.1 139.7 320.7 143.2 320.6 145.9 C320.6 148.6 319.4 151.0 317.5 153.5 C315.6 156.0 313.8 157.9 309.0 161.0 C304.2 164.1 297.8 168.1 289.0 172.1 C280.2 176.1 268.6 180.5 256.3 185.2 C244.0 189.8 226.6 195.3 215.4 200.0 C204.2 204.7 196.6 208.4 189.3 213.1 C182.0 217.8 176.2 223.8 171.8 228.4 C167.4 233.1 164.6 237.7 162.6 241.0 C160.6 244.3 159.8 246.5 159.6 248.4 C159.4 250.3 160.4 252.0 161.2 252.2 C162.0 252.3 163.3 250.9 164.2 249.3 C165.1 247.7 165.5 245.5 166.6 242.6 C167.7 239.7 168.3 234.6 170.6 232.0 C172.9 229.4 174.8 227.7 180.4 227.0 C186.1 226.3 195.0 226.3 204.5 227.6 C214.0 228.9 224.6 231.1 237.3 234.6 C250.0 238.1 266.4 243.8 280.9 248.6 C295.4 253.4 311.8 259.0 324.5 263.3 C337.2 267.6 347.9 271.1 357.2 274.6 C366.4 278.1 372.4 280.3 380.0 284.4 C387.6 288.5 396.5 291.9 402.9 299.1 C409.3 306.3 413.8 319.1 418.2 327.7 C422.6 336.3 425.8 343.9 429.6 350.6 C433.4 357.3 437.3 363.4 441.1 367.8 C444.9 372.2 447.4 374.5 452.5 377.3 C457.6 380.1 464.9 383.0 471.6 384.9 C478.3 386.8 486.9 388.8 492.6 388.8 C498.3 388.8 501.1 387.1 505.9 384.9 C510.7 382.7 517.4 378.9 521.2 375.4 C525.0 371.9 527.2 367.5 528.8 364.0 C530.4 360.5 531.0 357.6 530.7 354.4 C530.4 351.2 528.6 347.8 526.9 344.9 C525.1 342.0 524.3 339.3 520.2 337.2 C516.1 335.1 508.6 333.7 502.1 332.5 C495.6 331.3 487.8 329.9 481.1 330.0 C474.4 330.1 468.4 332.2 462.0 333.4 C455.6 334.6 448.2 334.5 443.0 337.2 C437.8 339.9 433.0 346.2 430.6 349.6 C428.2 353.0 428.1 354.8 428.7 357.3 C429.3 359.9 432.0 363.8 434.4 364.9 C436.8 366.0 436.2 364.8 443.0 364.0 C449.8 363.2 464.3 361.7 475.4 360.1 C486.5 358.5 500.2 356.9 509.7 354.4 C519.2 351.9 525.6 348.4 532.6 344.9 C539.6 341.4 545.3 337.5 551.7 333.4 C558.1 329.3 564.1 324.6 570.8 320.1 C577.5 315.6 584.8 310.7 592.0 306.6 C599.2 302.5 610.2 297.4 613.9 295.6" fill="none" stroke="#ff5a40" stroke-width="2.8" stroke-linecap="round" stroke-linejoin="round" opacity="0.22" filter="url(#b1)"/>
<path d="M306.4 130.7 C307.5 131.1 311.1 132.2 313.0 133.4 C314.9 134.6 316.5 135.5 317.8 137.6 C319.1 139.7 320.7 143.2 320.6 145.9 C320.6 148.6 319.4 151.0 317.5 153.5 C315.6 156.0 313.8 157.9 309.0 161.0 C304.2 164.1 297.8 168.1 289.0 172.1 C280.2 176.1 268.6 180.5 256.3 185.2 C244.0 189.8 226.6 195.3 215.4 200.0 C204.2 204.7 196.6 208.4 189.3 213.1 C182.0 217.8 176.2 223.8 171.8 228.4 C167.4 233.1 164.6 237.7 162.6 241.0 C160.6 244.3 159.8 246.5 159.6 248.4 C159.4 250.3 160.4 252.0 161.2 252.2 C162.0 252.3 163.3 250.9 164.2 249.3 C165.1 247.7 165.5 245.5 166.6 242.6 C167.7 239.7 168.3 234.6 170.6 232.0 C172.9 229.4 174.8 227.7 180.4 227.0 C186.1 226.3 195.0 226.3 204.5 227.6 C214.0 228.9 224.6 231.1 237.3 234.6 C250.0 238.1 266.4 243.8 280.9 248.6 C295.4 253.4 311.8 259.0 324.5 263.3 C337.2 267.6 347.9 271.1 357.2 274.6 C366.4 278.1 372.4 280.3 380.0 284.4 C387.6 288.5 396.5 291.9 402.9 299.1 C409.3 306.3 413.8 319.1 418.2 327.7 C422.6 336.3 425.8 343.9 429.6 350.6 C433.4 357.3 437.3 363.4 441.1 367.8 C444.9 372.2 447.4 374.5 452.5 377.3 C457.6 380.1 464.9 383.0 471.6 384.9 C478.3 386.8 486.9 388.8 492.6 388.8 C498.3 388.8 501.1 387.1 505.9 384.9 C510.7 382.7 517.4 378.9 521.2 375.4 C525.0 371.9 527.2 367.5 528.8 364.0 C530.4 360.5 531.0 357.6 530.7 354.4 C530.4 351.2 528.6 347.8 526.9 344.9 C525.1 342.0 524.3 339.3 520.2 337.2 C516.1 335.1 508.6 333.7 502.1 332.5 C495.6 331.3 487.8 329.9 481.1 330.0 C474.4 330.1 468.4 332.2 462.0 333.4 C455.6 334.6 448.2 334.5 443.0 337.2 C437.8 339.9 433.0 346.2 430.6 349.6 C428.2 353.0 428.1 354.8 428.7 357.3 C429.3 359.9 432.0 363.8 434.4 364.9 C436.8 366.0 436.2 364.8 443.0 364.0 C449.8 363.2 464.3 361.7 475.4 360.1 C486.5 358.5 500.2 356.9 509.7 354.4 C519.2 351.9 525.6 348.4 532.6 344.9 C539.6 341.4 545.3 337.5 551.7 333.4 C558.1 329.3 564.1 324.6 570.8 320.1 C577.5 315.6 584.8 310.7 592.0 306.6 C599.2 302.5 610.2 297.4 613.9 295.6" fill="none" stroke="#ea4a3e" stroke-width="1.35" stroke-linecap="round" stroke-linejoin="round" opacity="0.85" filter="url(#b05)"/>
<polyline points="620.9,290.4 633.0,278.5 645.4,265.9" fill="none" stroke="#f0301e" stroke-width="1.3" stroke-linecap="round" stroke-linejoin="round" />
<path d="M489.1 130.6 C486.6 131.5 479.0 133.9 473.8 136.0 C468.6 138.1 462.4 140.6 458.0 143.2 C453.6 145.8 450.0 148.9 447.5 151.5 C445.0 154.1 443.5 156.2 443.2 158.5 C442.9 160.8 443.9 163.4 445.5 165.5 C447.1 167.6 449.6 169.4 452.5 171.0 C455.4 172.6 455.7 172.9 462.9 175.0 C470.1 177.1 479.3 179.8 495.7 183.8 C512.1 187.8 539.5 194.4 561.4 199.2 C583.3 204.0 612.5 209.7 627.1 212.7 C641.7 215.7 645.4 216.4 649.0 217.1" fill="none" stroke="#ff4a30" stroke-width="5" stroke-linecap="round" stroke-linejoin="round" opacity="0.3" filter="url(#b2)"/>
<path d="M489.1 130.6 C486.6 131.5 479.0 133.9 473.8 136.0 C468.6 138.1 462.4 140.6 458.0 143.2 C453.6 145.8 450.0 148.9 447.5 151.5 C445.0 154.1 443.5 156.2 443.2 158.5 C442.9 160.8 443.9 163.4 445.5 165.5 C447.1 167.6 449.6 169.4 452.5 171.0 C455.4 172.6 455.7 172.9 462.9 175.0 C470.1 177.1 479.3 179.8 495.7 183.8 C512.1 187.8 539.5 194.4 561.4 199.2 C583.3 204.0 612.5 209.7 627.1 212.7 C641.7 215.7 645.4 216.4 649.0 217.1" fill="none" stroke="#f8402c" stroke-width="2.4" stroke-linecap="round" stroke-linejoin="round" opacity="0.85" filter="url(#b05)"/>
</g>
<defs>
<clipPath id="clipB"><rect x="821.8" y="58.0" width="701.0" height="394.4"/></clipPath>
<linearGradient id="bBg" x1="0" y1="0" x2="1" y2="0">
 <stop offset="0" stop-color="#121114"/><stop offset="0.5" stop-color="#131216"/><stop offset="1" stop-color="#131217"/>
</linearGradient>
<radialGradient id="bGlowL" cx="780" cy="312" r="420" gradientUnits="userSpaceOnUse" gradientTransform="translate(780 312) scale(1 0.3) translate(-780 -312)">
 <stop offset="0" stop-color="#5a4210" stop-opacity="1"/><stop offset="0.12" stop-color="#4c3b10" stop-opacity="1"/>
 <stop offset="0.3" stop-color="#3a3010" stop-opacity="0.95"/><stop offset="0.5" stop-color="#2c2a12" stop-opacity="0.85"/><stop offset="0.75" stop-color="#232112" stop-opacity="0.4"/><stop offset="1" stop-color="#1c1a10" stop-opacity="0"/>
</radialGradient>
<radialGradient id="bGlowD" cx="1070" cy="262" r="130" gradientUnits="userSpaceOnUse" gradientTransform="translate(1070 262) scale(1 0.9) translate(-1070 -262)">
 <stop offset="0" stop-color="#34321a" stop-opacity="0.6"/><stop offset="0.5" stop-color="#2a2a1a" stop-opacity="0.4"/><stop offset="1" stop-color="#1e1e18" stop-opacity="0"/>
</radialGradient>
<radialGradient id="bWarm" cx="950" cy="340" r="420" gradientUnits="userSpaceOnUse" gradientTransform="translate(950 340) scale(1 0.55) translate(-950 -340)">
 <stop offset="0" stop-color="#1c1a10" stop-opacity="0.8"/><stop offset="0.6" stop-color="#191812" stop-opacity="0.55"/><stop offset="1" stop-color="#151416" stop-opacity="0"/>
</radialGradient>
<radialGradient id="bSpot" cx="1099" cy="205.6" r="14" gradientUnits="userSpaceOnUse">
 <stop offset="0" stop-color="#fffbe0" stop-opacity="1"/><stop offset="0.2" stop-color="#ffe060" stop-opacity="0.8"/><stop offset="0.5" stop-color="#b09a20" stop-opacity="0.3"/><stop offset="1" stop-color="#807a20" stop-opacity="0"/>
</radialGradient>
<radialGradient id="bSpot2" cx="1150" cy="222" r="78" gradientUnits="userSpaceOnUse">
 <stop offset="0" stop-color="#504c28" stop-opacity="0.95"/><stop offset="0.35" stop-color="#403e24" stop-opacity="0.8"/><stop offset="0.7" stop-color="#2e2c1e" stop-opacity="0.4"/><stop offset="1" stop-color="#222018" stop-opacity="0"/>
</radialGradient>
<linearGradient id="bPaper" x1="0" y1="0" x2="0.15" y2="1">
 <stop offset="0" stop-color="#fff878"/><stop offset="0.1" stop-color="#ffffa0"/><stop offset="0.17" stop-color="#fff050"/><stop offset="0.27" stop-color="#c8c090"/><stop offset="0.38" stop-color="#a9a9b0"/><stop offset="0.7" stop-color="#aaaab2"/><stop offset="1" stop-color="#b6b6be"/>
</linearGradient>
<linearGradient id="bFiber" x1="822" y1="0" x2="1100" y2="0" gradientUnits="userSpaceOnUse">
 <stop offset="0" stop-color="#d8a818"/><stop offset="0.4" stop-color="#f0d040"/><stop offset="0.75" stop-color="#fff0a0"/><stop offset="1" stop-color="#fffbe0"/>
</linearGradient>
<linearGradient id="bArmL" x1="0" y1="0" x2="0" y2="1">
 <stop offset="0" stop-color="#222025"/><stop offset="0.5" stop-color="#1c1a20"/><stop offset="1" stop-color="#16141a"/>
</linearGradient>
<linearGradient id="bGreen" x1="0" y1="0" x2="0" y2="1">
 <stop offset="0" stop-color="#09200d"/><stop offset="0.4" stop-color="#051106"/><stop offset="1" stop-color="#030803"/>
</linearGradient>
<linearGradient id="bArmR" x1="0" y1="0" x2="0" y2="1">
 <stop offset="0" stop-color="#2a2830"/><stop offset="0.35" stop-color="#27252e"/><stop offset="0.7" stop-color="#1c1a22"/><stop offset="1" stop-color="#17151b"/>
</linearGradient>
<linearGradient id="bCres" x1="0" y1="0" x2="0" y2="1">
 <stop offset="0" stop-color="#b0b02a" stop-opacity="0.95"/><stop offset="0.45" stop-color="#8a8a1e" stop-opacity="0.85"/><stop offset="1" stop-color="#5a5a18" stop-opacity="0.25"/>
</linearGradient>
<linearGradient id="bNotch" x1="0" y1="0" x2="1" y2="0">
 <stop offset="0" stop-color="#a4a424" stop-opacity="0.95"/><stop offset="0.45" stop-color="#6e6e1c" stop-opacity="0.7"/><stop offset="1" stop-color="#4a4a1c" stop-opacity="0"/>
</linearGradient>
<radialGradient id="bDishF" cx="0.3" cy="0.5" r="0.75">
 <stop offset="0" stop-color="#3a381a" stop-opacity="0.2"/><stop offset="0.5" stop-color="#30301e" stop-opacity="0.12"/><stop offset="0.9" stop-color="#2c2c22" stop-opacity="0.1"/><stop offset="1" stop-color="#2c2c22" stop-opacity="0.06"/>
</radialGradient>
<filter id="bb1" x="-20%" y="-20%" width="140%" height="140%"><feGaussianBlur stdDeviation="0.7"/></filter>
<filter id="bb2" x="-30%" y="-30%" width="160%" height="160%"><feGaussianBlur stdDeviation="2"/></filter>
<filter id="bb5" x="-30%" y="-30%" width="160%" height="160%"><feGaussianBlur stdDeviation="5"/></filter>
</defs>
<g clip-path="url(#clipB)">
<rect x="821.8" y="58.0" width="701.0" height="394.4" fill="url(#bBg)"/>
<polygon points="821.0,101.2 1175.0,120.3 1240.0,124.6 1523.0,142.0 1523.0,453.0 821.0,453.0" fill="#141418" />
<polygon points="821.0,101.2 1175.0,120.3 1240.0,124.6 1523.0,142.0 1523.0,453.0 821.0,453.0" fill="url(#bWarm)" />
<rect x="821.8" y="58.0" width="701.0" height="394.4" fill="url(#bGlowL)"/>
<rect x="821.8" y="58.0" width="701.0" height="394.4" fill="url(#bGlowD)"/>
<polyline points="821.0,101.2 1175.0,120.3 1240.0,124.6 1523.0,142.0" fill="none" stroke="#08080a" stroke-width="2.6" stroke-linecap="round" stroke-linejoin="round" opacity="0.85" filter="url(#bb1)"/>
<ellipse cx="1528" cy="225" rx="12" ry="50" fill="#101012" filter="url(#bb5)" opacity="0.55"/>
<ellipse cx="1152" cy="258" rx="149" ry="131" fill="url(#bDishF)"/>
<polygon points="1033.0,173.2 1046.8,159.4 1063.8,147.7 1085.1,138.7 1106.4,132.8 1127.7,128.9 1148.9,127.4 1170.2,128.9 1191.5,132.8 1212.8,140.2 1234.0,151.9 1255.3,165.7 1276.6,183.8 1266.0,209.4 1253.2,190.2 1234.0,175.7 1212.8,165.7 1191.5,158.7 1170.2,155.3 1148.9,154.0 1127.7,155.7 1106.4,160.0 1085.1,166.4 1063.8,175.7 1051.1,183.8 1039.4,193.4" fill="#505030" opacity="0.08"/>
<path d="M1033.0 173.2 C1035.3 170.9 1041.7 163.6 1046.8 159.4 C1052.0 155.1 1057.4 151.1 1063.8 147.7 C1070.2 144.2 1078.0 141.2 1085.1 138.7 C1092.2 136.2 1099.3 134.4 1106.4 132.8 C1113.5 131.1 1120.6 129.8 1127.7 128.9 C1134.8 128.0 1141.8 127.4 1148.9 127.4 C1156.0 127.4 1163.1 128.0 1170.2 128.9 C1177.3 129.8 1184.4 130.9 1191.5 132.8 C1198.6 134.6 1205.7 137.0 1212.8 140.2 C1219.9 143.4 1227.0 147.7 1234.0 151.9 C1241.1 156.2 1248.2 160.4 1255.3 165.7 C1262.4 171.1 1273.0 180.8 1276.6 183.8" fill="none" stroke="#6a6a30" stroke-width="0.9" stroke-linecap="round" stroke-linejoin="round" opacity="0.42"/>
<path d="M1039.4 193.4 C1041.3 191.8 1047.0 186.8 1051.1 183.8 C1055.1 180.9 1058.2 178.7 1063.8 175.7 C1069.5 172.8 1078.0 169.0 1085.1 166.4 C1092.2 163.8 1099.3 161.8 1106.4 160.0 C1113.5 158.2 1120.6 156.7 1127.7 155.7 C1134.8 154.8 1141.8 154.1 1148.9 154.0 C1156.0 154.0 1163.1 154.5 1170.2 155.3 C1177.3 156.1 1184.4 157.0 1191.5 158.7 C1198.6 160.5 1205.7 162.9 1212.8 165.7 C1219.9 168.6 1227.3 171.7 1234.0 175.7 C1240.8 179.8 1247.9 184.6 1253.2 190.2 C1258.5 195.8 1263.8 206.2 1266.0 209.4" fill="none" stroke="#55552a" stroke-width="0.8" stroke-linecap="round" stroke-linejoin="round" opacity="0.28"/>
<polygon points="1032.7,174.5 1051.1,160.0 1061.8,156.9 1057.2,169.2 1051.1,176.8 1038.9,194.8" fill="url(#bNotch)" filter="url(#bb1)"/>
<polyline points="1033.1,175.0 1039.2,194.5" fill="none" stroke="#b4b42c" stroke-width="1.2" stroke-linecap="round" stroke-linejoin="round" opacity="0.9"/>
<polygon points="1025.4,185.6 1019.0,194.4 1012.9,205.8 1008.0,218.0 1005.0,231.8 1003.1,245.5 1002.8,257.7 1006.8,257.7 1012.9,245.5 1019.8,233.3 1025.4,221.1 1028.5,210.4 1029.1,201.2 1027.6,190.5" fill="url(#bCres)" filter="url(#bb1)"/>
<path d="M1025.4 185.6 C1024.4 187.1 1021.1 191.0 1019.0 194.4 C1016.9 197.7 1014.7 201.9 1012.9 205.8 C1011.1 209.7 1009.3 213.7 1008.0 218.0 C1006.7 222.3 1005.8 227.2 1005.0 231.8 C1004.1 236.3 1003.5 240.7 1003.1 245.5 C1002.8 250.3 1002.9 258.2 1002.8 260.8" fill="none" stroke="#c4c43a" stroke-width="1.0" stroke-linecap="round" stroke-linejoin="round" opacity="0.7"/>
<path d="M1002.8 260.8 C1003.0 263.8 1003.4 272.5 1004.0 279.1 C1004.7 285.6 1006.3 296.5 1006.8 300.0" fill="none" stroke="#8a8a2a" stroke-width="0.8" stroke-linecap="round" stroke-linejoin="round" opacity="0.45"/>
<path d="M1014.4 205.8 C1015.4 206.3 1018.2 207.8 1020.5 208.9 C1022.8 209.9 1026.9 211.4 1028.2 211.9" fill="none" stroke="#d8d850" stroke-width="1.0" stroke-linecap="round" stroke-linejoin="round" opacity="0.7"/>
<path d="M1009.6 200.0 C1008.9 203.2 1006.1 212.5 1005.2 219.5 C1004.2 226.4 1003.7 233.8 1004.0 241.7 C1004.4 249.6 1005.5 258.4 1007.4 266.7 C1009.2 275.1 1011.8 283.9 1015.2 291.7 C1018.5 299.6 1023.0 307.0 1027.7 314.0 C1032.3 320.9 1037.6 327.7 1043.0 333.4 C1048.3 339.2 1054.1 344.1 1059.6 348.7 C1065.2 353.4 1068.8 356.8 1076.3 361.2 C1083.9 365.6 1100.2 372.8 1105.0 375.1" fill="none" stroke="#6a6a24" stroke-width="0.8" stroke-linecap="round" stroke-linejoin="round" opacity="0.43"/>
<path d="M1035.8 210.4 C1034.5 212.7 1030.5 219.3 1028.2 224.1 C1025.9 229.0 1023.6 233.8 1022.1 239.4 C1020.5 245.0 1019.4 251.6 1018.7 257.7 C1018.0 263.8 1017.7 269.0 1017.8 276.0 C1017.8 283.1 1018.8 296.0 1019.0 300.0" fill="none" stroke="#74742a" stroke-width="0.8" stroke-linecap="round" stroke-linejoin="round" opacity="0.37"/>
<path d="M1016.8 283.4 C1018.4 287.1 1022.4 298.7 1026.3 305.6 C1030.2 312.6 1034.6 318.8 1040.2 325.1 C1045.7 331.4 1050.8 336.9 1059.6 343.2 C1068.5 349.4 1087.4 359.4 1093.0 362.6" fill="none" stroke="#5a5a20" stroke-width="0.72" stroke-linecap="round" stroke-linejoin="round" opacity="0.31"/>
<path d="M1040.4 210.4 C1039.6 212.7 1037.1 219.3 1035.8 224.1 C1034.5 229.0 1033.5 233.8 1032.7 239.4 C1032.0 245.0 1031.5 254.7 1031.2 257.7" fill="none" stroke="#6a6a26" stroke-width="0.72" stroke-linecap="round" stroke-linejoin="round" opacity="0.28"/>
<path d="M1004.3 260.0 C1006.7 265.7 1012.8 282.3 1019.1 294.0 C1025.5 305.7 1035.1 320.6 1042.6 330.2 C1050.0 339.8 1056.7 345.1 1063.8 351.5 C1070.9 357.9 1077.3 363.9 1085.1 368.5 C1092.9 373.1 1102.1 376.3 1110.6 379.1 C1119.1 382.0 1131.9 384.5 1136.2 385.5" fill="none" stroke="#5e5e26" stroke-width="0.72" stroke-linecap="round" stroke-linejoin="round" opacity="0.37"/>
<path d="M1289.4 260.0 C1289.0 263.5 1288.3 274.2 1287.2 281.3 C1286.2 288.4 1284.8 295.8 1283.0 302.6 C1281.2 309.3 1279.4 315.3 1276.6 321.7 C1273.8 328.1 1270.2 335.2 1266.0 340.9 C1261.7 346.5 1256.4 351.1 1251.1 355.7 C1245.7 360.4 1240.4 364.6 1234.0 368.5 C1227.7 372.4 1222.0 376.3 1212.8 379.1 C1203.5 382.0 1184.4 384.5 1178.7 385.5" fill="none" stroke="#4c4c36" stroke-width="0.72" stroke-linecap="round" stroke-linejoin="round" opacity="0.31"/>
<path d="M1280.1 326.7 C1278.4 329.2 1273.8 337.0 1269.8 341.5 C1265.9 345.9 1258.8 351.3 1256.6 353.2" fill="none" stroke="#9a9ac0" stroke-width="0.88" stroke-linecap="round" stroke-linejoin="round" opacity="0.31"/>
<polyline points="1275.7,185.3 1265.4,213.3" fill="none" stroke="#66662c" stroke-width="0.8" stroke-linecap="round" stroke-linejoin="round" opacity="0.37"/>
<polygon points="1284.6,196.5 1293.4,208.9 1300.8,226.6 1305.5,250.1 1307.2,276.7 1303.7,276.7 1301.4,251.6 1295.5,231.0 1286.0,214.2 1279.6,207.7" fill="#3c3c28" opacity="0.5"/>
<polyline points="1284.6,196.5 1274.3,219.5" fill="none" stroke="#5a5a30" stroke-width="0.9" stroke-linecap="round" stroke-linejoin="round" opacity="0.55"/>
<path d="M1284.6 196.5 C1286.0 198.6 1290.7 203.9 1293.4 208.9 C1296.1 213.9 1298.8 219.7 1300.8 226.6 C1302.8 233.5 1304.4 241.8 1305.5 250.1 C1306.6 258.5 1307.3 267.8 1307.2 276.7 C1307.2 285.5 1305.5 298.7 1305.2 303.2" fill="none" stroke="#5a5a34" stroke-width="0.72" stroke-linecap="round" stroke-linejoin="round" opacity="0.37"/>
<path d="M1265.4 213.3 C1267.9 218.5 1276.4 234.2 1280.1 244.3 C1283.9 254.3 1286.3 264.9 1287.8 273.7 C1289.3 282.5 1290.3 288.4 1289.0 297.3 C1287.7 306.1 1281.6 321.8 1280.1 326.7" fill="none" stroke="#55553a" stroke-width="0.8" stroke-linecap="round" stroke-linejoin="round" opacity="0.37"/>
<path d="M1261.0 217.2 C1263.5 222.2 1272.2 237.8 1276.0 247.2 C1279.8 256.6 1282.3 265.4 1283.7 273.7 C1285.1 282.1 1285.9 288.4 1284.6 297.3 C1283.2 306.1 1277.2 321.8 1275.7 326.7" fill="none" stroke="#44443a" stroke-width="0.72" stroke-linecap="round" stroke-linejoin="round" opacity="0.28"/>
<polyline points="1035.8,221.4 1095.3,221.8" fill="none" stroke="#8c8c26" stroke-width="1.6" stroke-linecap="round" stroke-linejoin="round" opacity="0.8" filter="url(#bb1)"/>
<polyline points="1035.8,226.4 1095.3,226.4" fill="none" stroke="#8c8c26" stroke-width="1.0" stroke-linecap="round" stroke-linejoin="round" opacity="0.6" filter="url(#bb1)"/>
<polyline points="1037.3,238.8 1095.3,238.2" fill="none" stroke="#8c8c26" stroke-width="1.1" stroke-linecap="round" stroke-linejoin="round" opacity="0.7" filter="url(#bb1)"/>
<rect x="821.8" y="58.0" width="701.0" height="394.4" fill="url(#bSpot2)"/>
<polygon points="1121.7,256.2 1191.9,260.9 1191.9,328.5 1120.4,328.5" fill="url(#bGreen)" />
<polygon points="1120.4,313.2 1191.5,317.9 1191.9,323.8 1120.4,323.0" fill="#20230f" />
<polygon points="1120.4,323.0 1191.9,323.8 1191.9,328.5 1120.4,328.5" fill="#020402" />
<polygon points="1114.9,342.6 1142.1,342.6 1142.1,379.1 1116.0,379.1" fill="#020203" />
<polygon points="1172.8,342.6 1204.3,342.6 1204.7,377.4 1174.0,379.1" fill="#020203" />
<polygon points="1116.0,379.6 1140.4,380.4 1138.7,396.2 1119.1,389.8" fill="#2a2e14" opacity="0.6"/>
<polyline points="1139.4,387.7 1139.6,396.2" fill="none" stroke="#a09a30" stroke-width="1.2" stroke-linecap="round" stroke-linejoin="round" opacity="0.8"/>
<polygon points="1176.6,384.5 1180.9,380.9 1214.9,376.6 1204.3,387.7 1178.7,396.2" fill="#1c2014" opacity="0.6"/>
<polyline points="1179.8,381.3 1175.5,396.2" fill="none" stroke="#6a6a60" stroke-width="1.0" stroke-linecap="round" stroke-linejoin="round" opacity="0.6"/>
<polygon points="1096.8,193.4 1118.1,193.4 1119.1,330.6 1096.8,330.6" fill="url(#bArmL)" />
<polygon points="1187.2,194.5 1209.6,194.5 1218.5,330.6 1192.6,330.6" fill="url(#bArmR)" />
<polygon points="1095.3,330.2 1219.1,330.2 1219.6,343.4 1094.5,343.4" fill="#17151b" />
<polygon points="1141.5,343.0 1173.4,343.0 1179.1,452.6 1146.8,452.6" fill="#1a181e" />
<polygon points="1176.6,398.3 1246.8,399.4 1249.4,452.6 1178.3,452.6" fill="#030304" />
<polygon points="1100.2,195.4 1106.0,193.0 1114.4,193.3 1118.5,198.2 1118.2,208.9 1113.7,216.8 1106.0,218.9 1100.2,215.7 1098.7,205.8" fill="#86822a" opacity="0.95" filter="url(#bb1)"/>
<polygon points="1104.5,196.6 1112.1,195.4 1116.0,200.0 1114.4,205.8 1107.6,204.3" fill="#5e5a1c" opacity="0.8" filter="url(#bb1)"/>
<polyline points="1099.9,205.8 1118.2,206.4" fill="none" stroke="#fff0a0" stroke-width="1.2" stroke-linecap="round" stroke-linejoin="round" opacity="0.75" filter="url(#bb1)"/>
<polygon points="1139.4,204.0 1163.8,203.0 1177.7,268.9 1153.2,273.2" fill="url(#bPaper)" />
<ellipse cx="1151" cy="208" rx="17" ry="9" fill="#fff060" opacity="0.35" filter="url(#bb2)"/>
<polyline points="1138.0,208.2 1168.0,208.0" fill="none" stroke="#fff6a0" stroke-width="1.0" stroke-linecap="round" stroke-linejoin="round" opacity="0.6" filter="url(#bb1)"/>
<circle cx="1154.3" cy="215.3" r="3.1" fill="#4a3c12"/>
<path d="M822.0 297.3 C828.7 294.9 848.1 287.7 862.3 282.8 C876.4 278.0 891.5 272.7 906.7 268.1 C922.0 263.6 939.2 259.3 954.0 255.6 C968.8 251.9 980.4 248.3 995.7 245.9 C1011.0 243.5 1029.5 242.4 1045.7 241.1 C1062.0 239.9 1085.1 238.8 1093.0 238.4" fill="none" stroke="#8a7420" stroke-width="0.9" stroke-linecap="round" stroke-linejoin="round" opacity="0.5"/>
<path d="M822.0 283.4 C828.2 281.2 846.7 274.6 859.5 270.1 C872.2 265.6 885.0 260.6 898.4 256.4 C911.8 252.3 922.5 249.1 940.1 245.0 C957.7 241.0 985.5 235.2 1004.0 232.0 C1022.6 228.7 1036.5 227.2 1051.3 225.6 C1066.1 224.0 1086.1 222.8 1093.0 222.2" fill="none" stroke="#9a8424" stroke-width="0.9" stroke-linecap="round" stroke-linejoin="round" opacity="0.55"/>
<path d="M822.0 280.6 C827.8 278.2 844.0 271.2 856.7 265.9 C869.4 260.6 884.5 253.9 898.4 248.7 C912.3 243.5 926.2 239.3 940.1 234.8 C954.0 230.3 970.1 225.2 981.8 221.7 C993.4 218.2 1002.0 215.6 1010.0 213.6 C1018.0 211.6 1023.1 210.5 1030.0 209.4 C1036.9 208.3 1043.8 207.6 1051.3 207.0 C1058.8 206.4 1067.4 206.1 1075.0 205.8 C1082.6 205.5 1093.3 205.5 1097.0 205.4" fill="none" stroke="#e0b020" stroke-width="2.6" stroke-linecap="round" stroke-linejoin="round" opacity="0.3" filter="url(#bb1)"/>
<path d="M822.0 280.6 C827.8 278.2 844.0 271.2 856.7 265.9 C869.4 260.6 884.5 253.9 898.4 248.7 C912.3 243.5 926.2 239.3 940.1 234.8 C954.0 230.3 970.1 225.2 981.8 221.7 C993.4 218.2 1002.0 215.6 1010.0 213.6 C1018.0 211.6 1023.1 210.5 1030.0 209.4 C1036.9 208.3 1043.8 207.6 1051.3 207.0 C1058.8 206.4 1067.4 206.1 1075.0 205.8 C1082.6 205.5 1093.3 205.5 1097.0 205.4" fill="none" stroke="url(#bFiber)" stroke-width="1.25" stroke-linecap="round" stroke-linejoin="round" />
<rect x="821.8" y="58.0" width="701.0" height="394.4" fill="url(#bSpot)"/>
<path d="M1168.0 208.2 C1176.7 208.3 1200.7 208.5 1220.0 208.8 C1239.3 209.1 1262.1 209.3 1283.6 209.8 C1305.1 210.3 1330.4 210.5 1349.0 212.0 C1367.6 213.5 1380.5 216.1 1395.0 219.0 C1409.5 221.9 1422.1 225.4 1436.3 229.4 C1450.5 233.4 1466.2 237.9 1480.0 243.0 C1493.8 248.1 1512.5 257.2 1519.0 260.0" fill="none" stroke="#4e6a22" stroke-width="0.8" stroke-linecap="round" stroke-linejoin="round" opacity="0.45"/>
<polyline points="1346.0,212.6 1354.0,213.2" fill="none" stroke="#8aff28" stroke-width="2.0" stroke-linecap="round" stroke-linejoin="round" />
</g>
<defs>
<clipPath id="clipC"><rect x="123.6" y="509.3" width="408.3" height="328.6"/></clipPath>
<clipPath id="clipD"><rect x="612.9" y="509.3" width="408.4" height="328.6"/></clipPath>
<clipPath id="clipE"><rect x="1147.2" y="509.3" width="408.2" height="328.6"/></clipPath>
</defs>
<g font-size="26" fill="#000">
<g clip-path="url(#clipC)">
<path d="M123.3 615.5 L126.6 613.5 L131.8 616.1 L137.1 610.9 L143.7 603.7 L148.9 604.3 L154.2 603.4 L160.7 603.0 L165.3 604.3 L167.3 608.0 L172.6 610.9 L177.8 614.2 L178.9 610.2 L180.4 615.5 L183.7 612.5 L188.3 617.5 L193.6 621.8 L198.8 624.0 L201.5 629.3 L204.8 638.5 L207.4 637.6 L211.3 645.7 L214.6 637.2 L217.9 634.1 L222.5 641.1 L227.8 629.3 L232.4 628.0 L235.6 630.6 L242.9 627.3 L246.1 631.9 L251.4 641.1 L253.4 641.4 L256.7 649.6 L259.9 649.0 L265.9 652.9 L267.8 652.7 L271.8 649.6 L275.7 655.6 L281.0 646.4 L284.3 633.9 L286.2 620.8 L288.5 622.8 L290.8 607.5 L293.5 573.8 L294.8 554.1 L295.8 538.3 L296.9 558.0 L297.7 571.1 L298.7 573.8 L300.0 584.0 L302.0 590.5 L304.0 585.3 L306.6 582.6 L307.9 587.9 L309.2 601.0 L310.5 593.8 L311.9 602.4 L315.8 601.0 L317.1 603.0 L319.1 600.4 L322.4 612.9 L326.3 633.9 L328.9 642.4 L327.0 636.7 L330.3 643.8 L334.2 647.1 L339.5 648.4 L345.4 651.1 L350.6 648.4 L356.5 643.8 L363.1 639.9 L371.6 637.3 L380.2 639.9 L385.4 645.8 L390.7 654.3 L396.0 666.2 L401.2 683.3 L406.5 703.0 L409.8 721.4 L411.7 741.5 L411.2 736.4 L414.1 773.7 L417.1 791.3 L418.8 790.0 L424.3 781.5 L430.2 775.6 L437.4 777.6 L443.9 776.9 L450.4 777.6 L454.4 782.8 L456.3 773.7 L460.3 782.2 L463.5 775.0 L468.8 775.0 L476.6 781.5 L483.2 784.1 L488.4 784.1 L493.6 780.2 L498.9 775.6 L502.8 775.0 L508.7 778.9 L512.6 772.4 L514.6 769.1 L517.2 771.7 L521.8 776.9 L525.7 763.2 L532.3 741.6" fill="none" stroke="#f25a5e" stroke-width="1.5" stroke-linejoin="round" stroke-linecap="butt" />
<path d="M123.3 612.3 L126.6 610.3 L131.8 612.9 L137.1 607.7 L143.7 600.5 L148.9 601.1 L154.2 600.2 L160.7 599.8 L165.3 601.1 L167.3 604.8 L172.6 607.7 L177.8 611.0 L178.9 607.0 L180.4 612.3 L183.7 609.3 L188.3 614.3 L193.6 618.6 L198.8 620.8 L201.5 626.1 L204.8 635.3 L207.4 634.4 L211.3 642.5 L214.6 634.0 L217.9 630.9 L222.5 637.9 L227.8 626.1 L232.4 624.8 L235.6 627.4 L242.9 624.1 L246.1 628.7 L251.4 637.9 L253.4 638.2 L256.7 646.4 L259.9 645.8 L265.9 649.7 L267.8 649.5 L271.8 646.4 L275.7 652.4 L281.0 643.8 L284.3 631.3 L286.2 618.2 L288.5 619.3 L290.8 606.8 L293.5 573.1 L294.8 553.4 L295.8 537.6 L296.9 557.3 L297.7 570.4 L298.7 573.1 L300.0 582.3 L302.0 588.8 L304.0 583.6 L306.6 580.9 L307.9 586.2 L309.2 599.3 L310.5 592.1 L311.9 600.7 L315.8 599.3 L317.1 601.3 L319.1 598.7 L322.4 611.2 L326.3 632.2 L328.9 638.8 L327.0 635.0 L330.3 640.2 L334.2 643.5 L339.5 644.8 L345.4 647.5 L350.6 644.8 L356.5 640.2 L363.1 636.3 L371.6 633.7 L380.2 636.3 L385.4 642.2 L390.7 650.7 L396.0 664.4 L401.2 681.5 L406.5 701.2 L409.8 719.6 L411.7 739.7 L411.8 735.7 L414.5 764.5 L415.8 772.4 L417.7 771.7 L423.0 765.2 L429.5 760.6 L437.4 759.3 L443.9 757.7 L450.4 758.0 L453.1 754.3 L454.6 759.9 L457.0 754.7 L460.3 759.3 L463.5 755.3 L468.8 755.1 L472.7 755.3 L476.6 758.0 L481.9 759.9 L489.7 759.3 L493.6 758.6 L499.5 758.4 L502.8 761.9 L506.1 768.4 L509.3 769.7 L512.6 765.2 L514.6 762.1 L517.2 765.2 L521.8 769.1 L525.7 756.6 L529.0 746.2 L532.3 737.0" fill="none" stroke="#6b6b6b" stroke-width="1.5" stroke-linejoin="round" stroke-linecap="butt" />
<path d="M123.3 612.6 L126.6 610.6 L131.8 613.2 L137.1 608.0 L143.7 600.8 L148.9 601.4 L154.2 600.5 L160.7 600.1 L165.3 601.4 L167.3 605.1 L172.6 608.0 L177.8 611.3 L178.9 607.3 L180.4 612.6 L183.7 609.6 L188.3 614.6 L193.6 618.9 L198.8 621.1 L201.5 626.4 L204.8 635.6 L207.4 634.7 L211.3 642.8 L214.6 634.3 L217.9 631.2 L222.5 638.2 L227.8 626.4 L232.4 625.1 L235.6 627.7 L242.9 624.4 L246.1 629.0 L251.4 638.2 L253.4 638.5 L256.7 646.7 L259.9 646.1 L265.9 650.0 L267.8 649.8 L271.8 646.7 L275.7 652.7 L281.0 644.1 L284.3 631.6 L286.2 618.5 L288.5 619.6 L290.8 607.1 L293.5 573.4 L294.8 553.7 L295.8 537.9 L296.9 557.6 L297.7 570.7 L298.7 573.4 L300.0 582.6 L302.0 589.1 L304.0 583.9 L306.6 581.2 L307.9 586.5 L309.2 599.6 L310.5 592.4 L311.9 601.0 L315.8 599.6 L317.1 601.6 L319.1 599.0 L322.4 611.5 L326.3 632.5 L328.9 641.2 L327.0 635.3 L330.3 642.6 L334.2 645.9 L339.5 647.2 L345.4 649.9 L350.6 647.2 L356.5 642.6 L363.1 638.7 L371.6 636.1 L380.2 638.7 L385.4 644.6 L390.7 653.1 L396.0 665.3 L401.2 682.4 L406.5 702.1 L409.8 720.5 L411.7 740.6 L411.8 736.4 L414.5 773.7 L416.4 787.4 L418.4 786.1 L424.3 776.9 L430.2 772.4 L437.4 773.0 L443.9 771.7 L451.8 773.0 L453.1 769.1 L454.4 777.6 L456.3 768.4 L460.3 775.0 L462.2 768.4 L463.5 773.7 L468.8 770.4 L471.4 773.0 L476.6 774.3 L483.2 778.9 L488.4 779.6 L493.6 776.3 L498.9 772.4 L502.8 771.7 L508.0 772.4 L512.6 766.5 L514.6 763.8 L517.2 766.5 L521.8 771.0 L525.7 758.6 L532.3 737.7" fill="none" stroke="#3f7de3" stroke-width="1.5" stroke-linejoin="round" stroke-linecap="butt" />
<path d="M123.3 610.9 L126.6 608.9 L131.8 611.5 L137.1 606.3 L143.7 599.1 L148.9 599.7 L154.2 598.8 L160.7 598.4 L165.3 599.7 L167.3 603.4 L172.6 606.3 L177.8 609.6 L178.9 605.6 L180.4 610.9 L183.7 607.9 L188.3 612.9 L193.6 617.2 L198.8 619.4 L201.5 624.7 L204.8 633.9 L207.4 633.0 L211.3 641.1 L214.6 632.6 L217.9 629.5 L222.5 636.5 L227.8 624.7 L232.4 623.4 L235.6 626.0 L242.9 622.7 L246.1 627.3 L251.4 636.5 L253.4 636.8 L256.7 645.0 L259.9 644.4 L265.9 648.3 L267.8 648.1 L271.8 645.0 L275.7 651.0 L281.0 642.4 L284.3 629.9 L286.2 616.8 L288.5 618.8 L290.8 606.3 L293.5 572.6 L294.8 552.9 L295.8 537.1 L296.9 556.8 L297.7 569.9 L298.7 572.6 L300.0 581.8 L302.0 588.3 L304.0 583.1 L306.6 580.4 L307.9 585.7 L309.2 598.8 L310.5 591.6 L311.9 600.2 L315.8 598.8 L317.1 600.8 L319.1 598.2 L322.4 610.7 L326.3 631.7 L328.9 639.6 L327.0 634.5 L330.3 641.0 L334.2 644.3 L339.5 645.6 L345.4 648.3 L350.6 645.6 L356.5 641.0 L363.1 637.1 L371.6 634.5 L380.2 637.1 L385.4 643.0 L390.7 651.5 L396.0 664.7 L401.2 681.8 L406.5 701.5 L409.8 719.9 L411.7 740.0 L411.8 735.7 L414.5 772.4 L416.4 784.1 L418.4 782.8 L424.3 773.7 L430.2 768.7 L437.4 769.5 L443.9 767.8 L451.8 769.7 L453.1 764.5 L454.4 775.0 L456.3 764.5 L458.3 765.8 L460.3 772.4 L462.2 764.5 L463.5 771.0 L465.5 765.8 L468.8 765.8 L471.4 769.7 L476.6 770.4 L481.9 774.3 L488.4 776.3 L493.6 773.0 L498.9 769.1 L502.8 769.1 L508.0 771.0 L512.6 765.8 L514.6 763.2 L517.2 765.8 L521.8 769.7 L525.7 757.3 L532.3 736.4" fill="none" stroke="#3aa878" stroke-width="1.6" stroke-linejoin="round" stroke-linecap="butt" />
</g>
<rect x="123.60" y="509.30" width="408.30" height="328.60" fill="none" stroke="#000" stroke-width="1.7"/>
<path d="M197.84 509.30v5.6M197.84 837.90v-5.6M272.07 509.30v5.6M272.07 837.90v-5.6M346.31 509.30v5.6M346.31 837.90v-5.6M420.55 509.30v5.6M420.55 837.90v-5.6M494.78 509.30v5.6M494.78 837.90v-5.6M160.72 509.30v2.4M160.72 837.90v-2.4M234.95 509.30v2.4M234.95 837.90v-2.4M309.19 509.30v2.4M309.19 837.90v-2.4M383.43 509.30v2.4M383.43 837.90v-2.4M457.66 509.30v2.4M457.66 837.90v-2.4M123.60 569.05h5.6M531.90 569.05h-5.6M123.60 628.79h5.6M531.90 628.79h-5.6M123.60 688.54h5.6M531.90 688.54h-5.6M123.60 748.28h5.6M531.90 748.28h-5.6M123.60 808.03h5.6M531.90 808.03h-5.6M123.60 539.17h2.4M531.90 539.17h-2.4M123.60 598.92h2.4M531.90 598.92h-2.4M123.60 658.66h2.4M531.90 658.66h-2.4M123.60 718.41h2.4M531.90 718.41h-2.4M123.60 778.15h2.4M531.90 778.15h-2.4" stroke="#000" stroke-width="1.5" fill="none"/>
<text x="123.6" y="865.2" text-anchor="middle">600</text>
<text x="197.8" y="865.2" text-anchor="middle">800</text>
<text x="272.1" y="865.2" text-anchor="middle">1000</text>
<text x="346.3" y="865.2" text-anchor="middle">1200</text>
<text x="420.5" y="865.2" text-anchor="middle">1400</text>
<text x="494.8" y="865.2" text-anchor="middle">1600</text>
<text x="116.7" y="518.7" text-anchor="end">-10</text>
<text x="116.7" y="578.4" text-anchor="end">-20</text>
<text x="116.7" y="638.2" text-anchor="end">-30</text>
<text x="116.7" y="697.9" text-anchor="end">-40</text>
<text x="116.7" y="757.7" text-anchor="end">-50</text>
<text x="116.7" y="817.4" text-anchor="end">-60</text>
<text x="205" y="899.5" xml:space="preserve">Wavelength  (nm)</text>
<text transform="translate(49.6 783.6) rotate(-90)" xml:space="preserve">Power  (dBm/nm)</text>
<g clip-path="url(#clipD)">
<path d="M612.6 585.6 L617.9 588.9 L623.1 590.9 L628.4 595.2 L633.7 598.1 L637.6 606.0 L642.9 612.6 L645.5 613.9 L649.4 623.7 L653.4 629.0 L657.3 631.6 L662.6 641.5 L667.8 648.0 L672.4 655.9 L676.4 665.1 L680.3 669.1 L681.0 670.0 L684.2 679.2 L687.5 691.0 L690.8 705.5 L694.1 725.2 L697.4 743.6 L700.3 753.7 L704.2 758.7 L706.5 757.0 L708.2 759.3 L713.8 754.2 L720.5 750.3 L726.7 744.6 L732.9 743.0 L737.4 741.8 L741.4 739.6 L747.6 740.7 L751.0 743.5 L753.8 740.7 L755.5 743.0 L757.7 740.1 L760.0 741.8 L765.6 740.7 L773.5 739.6 L777.4 743.0 L782.5 740.1 L788.1 742.4 L793.8 742.4 L796.0 744.1 L798.3 740.7 L801.6 743.5 L804.5 735.1 L808.4 748.6 L812.9 736.8 L815.2 734.5 L819.1 735.1 L824.7 748.0 L827.6 739.0 L830.4 744.6 L832.1 739.6 L834.9 737.9 L837.1 742.4 L841.1 738.4 L843.3 744.1 L847.3 736.8 L851.2 742.4 L855.7 744.1 L860.0 744.1 L864.6 743.8 L871.2 749.1 L875.7 747.7 L878.4 750.4 L881.6 747.7 L884.2 751.0 L890.8 751.7 L896.7 753.4 L902.6 753.4 L909.1 749.7 L915.6 748.4 L922.2 745.8 L928.7 744.9 L935.3 744.5 L943.1 742.1 L949.7 743.8 L954.9 746.0 L958.8 743.4 L965.4 744.5 L968.6 741.9 L971.9 736.9 L975.2 736.6 L981.1 739.0 L986.9 741.6 L994.1 741.6 L997.4 738.6 L1002.0 730.1 L1010.5 714.4 L1015.1 708.5 L1021.6 702.0" fill="none" stroke="#f5222d" stroke-width="1.5" stroke-linejoin="round" stroke-linecap="butt" />
<path d="M612.6 599.4 L616.6 598.4 L619.9 602.0 L623.1 601.8 L628.4 607.3 L633.7 609.9 L637.6 616.5 L642.9 623.7 L648.1 629.6 L652.7 634.9 L657.3 643.4 L662.6 652.0 L666.5 656.6 L669.8 665.1 L672.4 667.8 L676.4 676.3 L678.3 679.2 L683.6 688.4 L687.5 701.5 L691.5 721.2 L695.4 741.0 L695.8 744.6 L700.3 754.2 L703.7 757.6 L709.3 755.9 L716.0 750.8 L725.1 748.6 L730.7 745.8 L737.4 744.6 L741.4 742.4 L749.8 744.1 L758.8 743.0 L770.1 741.8 L773.5 739.6 L781.4 739.0 L788.1 740.1 L793.8 739.0 L796.0 740.7 L801.6 739.0 L804.5 734.5 L808.4 743.0 L812.9 736.8 L819.1 735.1 L824.7 741.8 L827.6 739.0 L830.4 741.8 L834.9 736.8 L837.1 739.0 L841.1 737.3 L843.3 739.6 L847.3 735.6 L853.5 739.6 L858.0 736.2 L860.0 736.8 L864.6 738.6 L871.8 739.5 L874.4 741.9 L876.4 740.6 L879.7 742.9 L885.6 740.6 L888.8 742.9 L893.4 742.1 L898.6 743.2 L901.3 741.6 L905.8 742.9 L911.7 740.6 L918.3 741.9 L927.4 739.9 L931.3 739.9 L936.6 743.2 L939.2 745.8 L941.8 745.1 L945.7 749.7 L949.7 753.4 L952.3 752.3 L956.2 754.7 L960.1 754.3 L967.3 751.7 L971.2 746.4 L973.9 744.5 L977.1 746.4 L979.7 746.0 L983.7 750.4 L988.9 752.7 L992.2 753.0 L996.8 749.7 L1003.3 741.9 L1011.1 728.1 L1016.4 721.6 L1021.6 715.7" fill="none" stroke="#3d3d3d" stroke-width="1.5" stroke-linejoin="round" stroke-linecap="butt" />
<path d="M612.6 617.2 L617.9 618.5 L623.1 623.1 L628.4 626.4 L636.3 635.6 L642.9 646.7 L649.4 651.3 L654.7 661.2 L660.6 669.1 L663.9 676.3 L667.8 675.9 L674.0 690.4 L680.6 701.5 L685.8 716.6 L690.2 741.0 L692.2 753.7 L694.4 758.2 L697.8 786.3 L700.0 796.5 L704.2 803.2 L706.5 801.5 L708.2 802.7 L712.7 798.7 L719.4 794.2 L730.7 786.3 L738.6 785.4 L741.4 784.1 L747.0 784.1 L749.8 786.9 L752.1 785.8 L754.9 788.0 L757.2 784.6 L760.0 786.3 L765.6 785.8 L771.2 784.1 L778.0 788.6 L784.8 786.9 L790.4 789.1 L793.8 787.4 L796.6 790.8 L798.3 788.0 L802.8 788.6 L804.5 782.4 L808.4 796.5 L812.9 784.1 L818.0 782.9 L824.7 795.3 L828.7 780.7 L830.9 791.4 L834.9 782.9 L837.1 787.4 L839.4 784.1 L843.3 791.4 L847.3 783.5 L851.2 789.1 L855.7 790.3 L860.0 790.8 L860.7 790.9 L865.3 789.0 L871.8 795.2 L875.7 794.2 L879.7 796.8 L882.3 794.8 L888.2 797.5 L894.7 797.1 L901.3 796.8 L906.5 796.2 L911.7 792.9 L918.3 790.3 L924.8 787.9 L931.3 784.8 L936.6 784.8 L944.4 785.7 L949.7 786.3 L953.6 788.3 L958.8 787.0 L965.4 783.7 L970.6 778.5 L975.8 775.9 L978.4 775.9 L982.4 780.5 L987.6 784.4 L994.1 787.0 L1003.3 772.6 L1011.1 758.9 L1021.6 745.8" fill="none" stroke="#2db56e" stroke-width="1.5" stroke-linejoin="round" stroke-linecap="butt" />
<path d="M612.6 614.5 L617.9 616.5 L623.1 620.4 L628.4 625.0 L636.3 632.9 L644.2 642.8 L649.4 650.7 L654.7 657.9 L660.6 667.1 L663.9 675.0 L668.5 675.3 L674.4 689.7 L681.0 700.9 L686.2 716.0 L690.4 741.0 L692.4 753.7 L694.6 758.2 L698.0 786.3 L700.3 795.3 L704.2 801.0 L706.5 799.8 L708.2 802.1 L712.7 797.6 L719.4 793.1 L730.7 785.2 L738.6 784.1 L741.4 781.3 L747.0 781.8 L749.3 785.2 L752.1 784.1 L754.9 786.9 L757.2 782.9 L760.0 785.2 L765.6 784.1 L771.2 782.4 L778.0 786.3 L784.8 785.2 L790.4 786.3 L793.8 785.2 L796.6 788.0 L798.3 785.8 L802.8 787.4 L804.5 781.3 L808.4 795.3 L812.9 782.4 L818.0 780.7 L824.7 794.8 L828.7 779.6 L830.9 790.8 L834.9 781.8 L837.1 786.3 L839.4 782.9 L843.3 790.8 L847.3 782.4 L851.2 786.9 L855.7 788.6 L860.0 789.1 L860.7 789.6 L865.3 787.9 L871.8 793.5 L875.7 792.6 L879.7 794.5 L882.3 792.9 L888.2 795.5 L894.7 794.8 L901.3 794.2 L906.5 793.1 L909.1 790.3 L915.6 789.0 L922.2 789.2 L928.7 785.7 L936.6 783.1 L941.8 780.8 L944.4 782.7 L949.7 783.1 L953.6 785.7 L958.8 784.4 L962.7 785.0 L968.0 775.9 L973.9 772.6 L979.7 777.2 L983.7 781.8 L988.9 783.7 L992.8 785.7 L1003.3 770.0 L1011.1 756.9 L1021.6 743.8" fill="none" stroke="#b57ae0" stroke-width="1.5" stroke-linejoin="round" stroke-linecap="butt" />
<path d="M612.6 613.2 L617.9 615.8 L623.1 619.8 L628.4 623.1 L636.3 631.0 L645.5 640.2 L649.4 648.0 L654.7 655.9 L660.6 665.8 L665.8 674.3 L669.8 675.3 L675.7 689.7 L682.3 700.9 L687.5 716.0 L691.5 741.0 L693.0 753.7 L695.8 772.8 L698.0 782.9 L700.8 789.7 L704.2 792.5 L706.5 791.7 L708.2 793.1 L712.7 788.6 L719.4 784.1 L727.3 781.3 L736.3 779.0 L741.4 777.3 L747.6 777.9 L749.8 779.6 L756.6 778.4 L763.4 776.7 L773.5 775.6 L778.0 777.3 L784.8 776.2 L793.8 776.2 L802.2 776.7 L804.5 771.7 L808.4 780.7 L812.9 772.2 L818.5 770.0 L824.7 781.3 L828.7 773.4 L830.9 778.4 L834.9 773.4 L837.1 776.2 L839.4 774.5 L843.3 778.4 L847.3 772.8 L851.2 776.7 L855.7 776.2 L860.0 775.6 L864.6 774.6 L871.8 777.2 L876.4 779.1 L879.7 781.1 L882.3 777.2 L888.2 783.1 L894.7 781.8 L896.7 783.7 L901.3 781.4 L906.5 782.2 L915.6 780.1 L922.2 779.1 L926.1 776.1 L931.3 775.9 L939.2 775.2 L943.1 777.2 L947.0 779.5 L951.0 778.2 L956.2 781.8 L962.7 778.5 L968.0 777.8 L973.2 770.6 L977.8 770.6 L982.4 778.5 L986.3 781.8 L990.2 781.1 L994.1 783.7 L1003.3 769.3 L1011.1 756.3 L1021.6 743.8" fill="none" stroke="#1469e6" stroke-width="1.5" stroke-linejoin="round" stroke-linecap="butt" />
<path d="M612.6 608.4 L615.9 613.2 L618.5 612.6 L623.1 616.5 L627.1 617.2 L633.0 621.8 L636.3 627.7 L640.2 629.6 L646.8 638.8 L650.7 646.7 L655.3 654.6 L661.2 662.5 L666.5 671.7 L670.4 676.3 L671.8 677.9 L677.0 689.7 L683.6 700.2 L688.8 716.0 L692.8 741.0 L693.5 752.5 L696.9 772.8 L700.3 784.1 L704.2 788.6 L706.5 787.4 L708.2 788.6 L712.7 784.1 L719.4 779.6 L727.3 775.6 L736.3 772.2 L743.1 771.1 L747.0 770.3 L749.3 773.9 L753.8 772.8 L755.5 774.5 L757.7 771.7 L760.0 772.8 L763.4 771.7 L767.9 773.4 L771.2 771.7 L776.9 773.9 L782.5 772.8 L788.1 773.4 L793.8 773.4 L798.3 773.4 L802.2 775.6 L804.5 768.9 L808.4 780.7 L812.9 771.7 L818.5 768.9 L824.7 781.3 L828.7 767.7 L830.9 777.3 L834.9 768.9 L837.1 773.4 L839.4 770.0 L843.3 775.1 L847.3 769.4 L851.2 775.1 L855.7 775.1 L860.0 775.6 L864.6 775.2 L871.8 780.1 L875.7 780.1 L879.7 782.4 L882.3 779.1 L886.9 781.1 L894.7 780.8 L901.3 781.8 L906.5 780.1 L911.7 776.9 L918.3 774.8 L924.8 774.3 L930.0 772.3 L935.3 773.0 L940.5 772.0 L945.7 774.6 L949.7 774.6 L952.3 776.5 L955.5 779.1 L958.8 776.5 L966.7 774.6 L971.9 769.1 L975.8 768.7 L979.7 767.1 L983.7 770.6 L988.9 775.2 L992.2 775.6 L996.8 772.6 L1003.3 761.5 L1011.1 747.7 L1015.1 744.5 L1017.7 737.9 L1021.6 733.4" fill="none" stroke="#7d7800" stroke-width="1.5" stroke-linejoin="round" stroke-linecap="butt" />
</g>
<rect x="612.90" y="509.30" width="408.40" height="328.60" fill="none" stroke="#000" stroke-width="1.7"/>
<path d="M715.00 509.30v5.6M715.00 837.90v-5.6M919.20 509.30v5.6M919.20 837.90v-5.6M817.10 509.30v2.4M817.10 837.90v-2.4M612.90 582.32h5.6M1021.30 582.32h-5.6M612.90 655.34h5.6M1021.30 655.34h-5.6M612.90 728.37h5.6M1021.30 728.37h-5.6M612.90 801.39h5.6M1021.30 801.39h-5.6M612.90 545.81h2.4M1021.30 545.81h-2.4M612.90 618.83h2.4M1021.30 618.83h-2.4M612.90 691.86h2.4M1021.30 691.86h-2.4M612.90 764.88h2.4M1021.30 764.88h-2.4" stroke="#000" stroke-width="1.5" fill="none"/>
<text x="715.0" y="865.2" text-anchor="middle">1400</text>
<text x="919.2" y="865.2" text-anchor="middle">1600</text>
<text x="606.0" y="518.7" text-anchor="end">-20</text>
<text x="606.0" y="591.7" text-anchor="end">-30</text>
<text x="606.0" y="664.7" text-anchor="end">-40</text>
<text x="606.0" y="737.8" text-anchor="end">-50</text>
<text x="606.0" y="810.8" text-anchor="end">-60</text>
<text x="694" y="899.5" xml:space="preserve">Wavelength  (nm)</text>
<text x="923.6" y="542.9" font-size="24.6" fill="#f01e28">1:1</text>
<path d="M969.8 533.8h18.8" stroke="#f01e28" stroke-width="2"/>
<text x="923.6" y="572.2" font-size="24.6" fill="#1a1a1a">1:2</text>
<path d="M969.8 563.1h18.8" stroke="#1a1a1a" stroke-width="2"/>
<text x="923.6" y="601.5" font-size="24.6" fill="#857f12">1:3</text>
<path d="M969.8 592.4h18.8" stroke="#857f12" stroke-width="2"/>
<text x="923.6" y="630.8" font-size="24.6" fill="#0a64f5">1:4</text>
<path d="M969.8 621.7h18.8" stroke="#0a64f5" stroke-width="2"/>
<text x="923.6" y="660.1" font-size="24.6" fill="#c487de">1:5</text>
<path d="M969.8 651.0h18.8" stroke="#c487de" stroke-width="2"/>
<text x="923.6" y="689.4" font-size="24.6" fill="#2cb865">1:6</text>
<path d="M969.8 680.3h18.8" stroke="#2cb865" stroke-width="2"/>
<g clip-path="url(#clipE)">
<path d="M1147.9 722.7 L1149.9 710.9 L1151.8 708.3 L1153.1 712.9 L1155.1 709.6 L1157.1 702.3 L1158.7 701.7 L1160.4 714.2 L1162.1 717.5 L1164.3 706.3 L1167.6 705.6 L1169.6 718.1 L1170.9 725.3 L1173.5 729.3 L1176.1 735.2 L1178.8 743.7 L1180.7 743.7 L1183.4 737.2 L1185.3 733.2 L1186.6 733.2 L1189.9 718.1 L1192.6 712.9 L1195.2 699.7 L1197.2 697.3 L1199.4 697.7 L1201.1 711.5 L1202.8 715.5 L1205.0 709.6 L1207.0 714.8 L1209.6 728.6 L1212.0 736.5 L1214.2 737.2 L1215.6 738.5 L1218.2 732.6 L1220.2 731.9 L1222.1 735.2 L1224.1 735.8 L1226.1 723.4 L1227.4 720.7 L1228.7 725.3 L1230.7 729.3 L1232.6 726.6 L1234.6 729.3 L1237.2 733.9 L1239.9 733.2 L1242.5 741.8 L1245.8 736.5 L1247.8 741.8 L1249.7 743.1 L1251.7 739.1 L1253.7 743.1 L1256.3 740.4 L1258.9 741.8 L1260.9 743.7 L1264.2 739.1 L1266.1 741.8 L1268.8 739.1 L1272.7 741.8 L1276.7 737.8 L1279.3 741.8 L1281.9 747.0 L1285.2 751.6 L1287.2 751.6 L1290.5 754.9 L1293.7 752.9 L1295.7 754.2 L1297.7 748.3 L1299.7 741.8 L1301.6 745.0 L1305.6 742.4 L1308.9 745.0 L1310.8 741.8 L1312.8 747.0 L1314.8 741.8 L1316.7 738.5 L1319.4 738.5 L1321.3 741.1 L1323.3 746.4 L1325.9 741.1 L1329.9 748.3 L1333.2 743.7 L1335.8 747.0 L1337.8 751.0 L1340.4 747.7 L1343.0 754.2 L1345.0 755.2 L1348.9 757.2 L1351.6 754.6 L1355.5 752.6 L1358.1 753.9 L1360.8 750.0 L1364.7 748.7 L1366.7 753.9 L1369.3 751.9 L1373.3 757.2 L1375.9 754.6 L1377.9 749.3 L1381.1 756.5 L1384.4 755.2 L1388.4 751.9 L1393.0 759.2 L1397.6 753.3 L1401.5 757.2 L1406.1 758.5 L1410.7 763.1 L1415.3 768.4 L1418.6 769.0 L1421.0 767.0 L1423.8 772.3 L1429.1 768.4 L1433.0 771.0 L1437.6 772.3 L1442.2 776.9 L1448.2 781.5 L1451.4 778.9 L1456.7 778.2 L1460.6 776.9 L1463.9 776.9 L1467.9 778.9 L1470.5 782.2 L1472.5 779.5 L1475.7 783.5 L1479.0 781.5 L1481.7 786.1 L1485.6 785.4 L1490.9 788.7 L1494.1 787.8 L1496.8 789.4 L1500.1 786.8 L1503.3 790.0 L1507.9 789.4 L1511.2 792.7 L1515.2 794.0 L1518.5 797.3 L1522.4 797.3 L1527.0 799.2 L1529.6 798.6 L1530.9 794.0 L1532.3 794.0 L1534.2 800.6 L1536.9 799.9 L1540.8 802.5 L1544.7 805.2 L1547.4 804.5 L1551.3 807.1 L1555.0 805.4" fill="none" stroke="#0000ff" stroke-width="1.9" stroke-linejoin="round" stroke-linecap="butt" />
<path d="M1147.9 741.8 L1149.9 735.2 L1151.8 733.9 L1153.1 737.8 L1155.1 734.5 L1157.1 727.3 L1159.1 726.3 L1160.8 735.2 L1162.3 737.8 L1164.3 732.6 L1167.6 731.9 L1169.6 741.8 L1171.5 749.6 L1174.2 751.6 L1176.8 754.9 L1178.8 760.8 L1180.7 762.8 L1183.4 756.9 L1185.3 753.6 L1186.6 754.2 L1189.9 743.1 L1192.6 739.1 L1195.2 726.6 L1197.2 725.3 L1199.4 726.6 L1201.1 739.1 L1202.8 743.7 L1205.0 740.4 L1207.0 745.7 L1209.6 756.2 L1212.0 760.8 L1214.9 761.5 L1218.2 758.2 L1220.2 757.5 L1223.4 759.5 L1226.1 749.6 L1227.4 747.7 L1228.7 751.0 L1230.7 754.2 L1232.6 751.6 L1234.6 752.3 L1237.2 758.8 L1239.9 758.8 L1243.2 764.1 L1245.8 761.5 L1248.4 764.8 L1251.0 763.4 L1253.7 765.4 L1256.3 763.4 L1258.9 764.8 L1260.9 767.4 L1264.2 760.8 L1266.1 764.1 L1268.8 764.1 L1272.7 766.7 L1277.3 764.8 L1279.9 766.7 L1283.2 771.3 L1287.2 774.0 L1290.5 777.9 L1293.7 776.6 L1295.7 777.2 L1297.7 773.3 L1299.7 769.4 L1301.6 771.3 L1305.6 768.7 L1308.9 772.0 L1310.8 770.7 L1312.8 772.6 L1314.8 768.7 L1316.7 767.4 L1319.4 768.7 L1321.3 769.4 L1323.3 772.0 L1325.9 770.0 L1329.9 776.6 L1333.2 774.6 L1335.8 777.9 L1337.8 780.5 L1340.4 777.9 L1343.0 781.8 L1345.0 781.5 L1348.9 782.8 L1352.9 782.2 L1358.1 781.8 L1360.8 780.5 L1364.7 782.2 L1366.7 784.4 L1369.3 783.5 L1373.3 786.1 L1375.9 783.5 L1377.9 782.2 L1381.8 786.1 L1384.4 786.1 L1388.4 784.8 L1393.0 790.0 L1397.6 787.8 L1401.5 790.0 L1406.1 791.4 L1410.7 792.7 L1415.3 795.3 L1418.6 796.0 L1421.0 795.3 L1423.8 799.2 L1429.1 797.7 L1433.0 799.2 L1437.6 800.6 L1442.2 801.9 L1448.2 804.9 L1451.4 804.1 L1456.7 803.8 L1460.6 803.4 L1463.9 804.5 L1467.9 805.8 L1470.5 807.5 L1472.5 806.5 L1475.7 809.1 L1479.0 807.8 L1481.7 809.4 L1485.6 809.8 L1490.9 811.7 L1494.1 811.1 L1496.8 812.0 L1500.1 811.5 L1503.3 813.0 L1507.9 813.3 L1511.2 815.7 L1515.2 816.7 L1518.5 818.6 L1522.4 818.3 L1527.0 819.3 L1529.6 818.6 L1531.6 816.1 L1534.2 820.3 L1536.9 820.3 L1540.8 821.6 L1544.7 823.3 L1549.3 823.6 L1555.0 822.9" fill="none" stroke="#ff0000" stroke-width="1.9" stroke-linejoin="round" stroke-linecap="butt" />
</g>
<rect x="1147.20" y="509.30" width="408.20" height="328.60" fill="none" stroke="#000" stroke-width="1.7"/>
<path d="M1215.23 509.30v5.6M1215.23 837.90v-5.6M1283.27 509.30v5.6M1283.27 837.90v-5.6M1351.30 509.30v5.6M1351.30 837.90v-5.6M1419.33 509.30v5.6M1419.33 837.90v-5.6M1487.37 509.30v5.6M1487.37 837.90v-5.6M1181.22 509.30v2.4M1181.22 837.90v-2.4M1249.25 509.30v2.4M1249.25 837.90v-2.4M1317.28 509.30v2.4M1317.28 837.90v-2.4M1385.32 509.30v2.4M1385.32 837.90v-2.4M1453.35 509.30v2.4M1453.35 837.90v-2.4M1521.38 509.30v2.4M1521.38 837.90v-2.4M1147.20 772.18h5.6M1555.40 772.18h-5.6M1147.20 706.46h5.6M1555.40 706.46h-5.6M1147.20 640.74h5.6M1555.40 640.74h-5.6M1147.20 575.02h5.6M1555.40 575.02h-5.6M1147.20 805.04h2.4M1555.40 805.04h-2.4M1147.20 739.32h2.4M1555.40 739.32h-2.4M1147.20 673.60h2.4M1555.40 673.60h-2.4M1147.20 607.88h2.4M1555.40 607.88h-2.4M1147.20 542.16h2.4M1555.40 542.16h-2.4" stroke="#000" stroke-width="1.5" fill="none"/>
<text x="1147.2" y="865.2" text-anchor="middle">500</text>
<text x="1215.2" y="865.2" text-anchor="middle">600</text>
<text x="1283.3" y="865.2" text-anchor="middle">700</text>
<text x="1351.3" y="865.2" text-anchor="middle">800</text>
<text x="1419.3" y="865.2" text-anchor="middle">900</text>
<text x="1487.4" y="865.2" text-anchor="middle">1000</text>
<text x="1553.8" y="865.2" text-anchor="middle">1100</text>
<text x="1140.3" y="781.6" text-anchor="end">20</text>
<text x="1140.3" y="715.9" text-anchor="end">40</text>
<text x="1140.3" y="650.1" text-anchor="end">60</text>
<text x="1140.3" y="584.4" text-anchor="end">80</text>
<text x="1140.3" y="518.7" text-anchor="end">100</text>
<text x="1247" y="899.5" xml:space="preserve">Wavelength  (nm)</text>
<text transform="translate(1075 783) rotate(-90)" xml:space="preserve">Transmission  (%)</text>
<path d="M1179 548.3h19.1" stroke="#0000ff" stroke-width="2.6"/>
<path d="M1179 582.4h19.1" stroke="#ff0000" stroke-width="2.6"/>
<text x="1210" y="555.5" font-size="25.5" fill="#0000ff">Sample 1</text>
<text x="1210" y="589.6" font-size="25.5" fill="#ff0000">Sample 2</text>
</g>
<g font-size="32.5" font-weight="bold" fill="#000">
<text x="89.1" y="43.0">(a)</text>
<text x="838.0" y="43.0">(b)</text>
<text x="69.8" y="481.1">(c)</text>
<text x="561.6" y="481.1">(d)</text>
<text x="1088.6" y="481.1">(e)</text>
</g>
</svg>
</body></html>
